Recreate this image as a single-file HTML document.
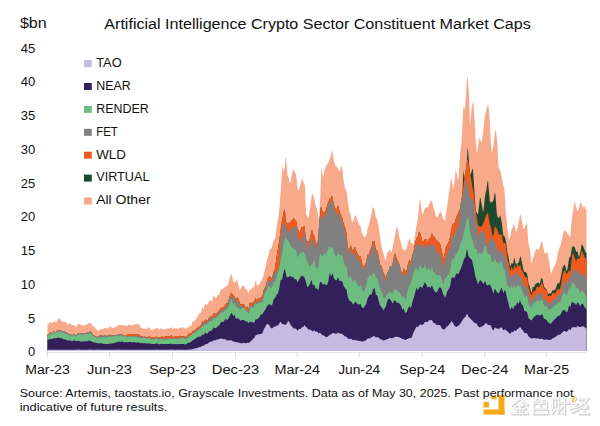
<!DOCTYPE html><html><head><meta charset="utf-8"><style>
html,body{margin:0;padding:0;background:#fff;}
body{width:600px;height:426px;overflow:hidden;position:relative;font-family:"Liberation Sans",sans-serif;color:#1a1a1a;}
.t{position:absolute;white-space:nowrap;line-height:1;}
</style></head><body>
<svg width="600" height="426" style="position:absolute;left:0;top:0">

<polygon fill="#f8a98a" points="47.5,351.0 47.5,324.3 48.0,324.1 48.5,323.7 49.0,323.2 49.5,322.6 50.0,322.2 50.5,322.0 51.0,321.8 51.5,322.3 52.0,323.0 52.5,323.6 53.0,322.8 53.5,321.7 54.0,320.8 54.5,321.3 55.0,321.7 55.5,322.0 56.0,321.9 56.5,321.7 57.0,321.2 57.5,320.3 58.0,319.4 58.5,318.7 59.0,318.0 59.5,318.4 60.0,319.0 60.5,319.5 61.0,320.1 61.5,320.7 62.0,321.2 62.5,321.7 63.0,321.9 63.5,322.1 64.0,322.1 64.5,322.0 65.0,321.8 65.5,322.0 66.0,322.3 66.5,322.6 67.0,323.4 67.5,324.1 68.0,324.6 68.5,324.2 69.0,323.8 69.5,323.5 70.0,323.5 70.5,323.5 71.0,323.8 71.5,324.4 72.0,325.1 72.5,325.2 73.0,325.2 73.5,325.1 74.0,325.2 74.5,325.2 75.0,325.5 75.5,326.6 76.0,327.2 76.5,327.1 77.0,326.1 77.5,325.1 78.0,324.5 78.5,324.1 79.0,323.8 79.5,323.9 80.0,324.2 80.5,324.7 81.0,324.8 81.5,324.9 82.0,325.0 82.5,325.2 83.0,325.4 83.5,325.5 84.0,325.5 84.5,325.5 85.0,325.3 85.5,325.0 86.0,324.7 86.5,324.5 87.0,324.3 87.5,324.1 88.0,323.7 88.5,323.4 89.0,323.1 89.5,322.9 90.0,322.8 90.5,322.9 91.0,323.6 91.5,324.2 92.0,324.9 92.5,325.7 93.0,326.5 93.5,326.6 94.0,326.5 94.5,326.6 95.0,327.5 95.5,328.3 96.0,329.1 96.5,329.5 97.0,330.0 97.5,330.0 98.0,330.5 98.5,330.9 99.0,330.8 99.5,330.2 100.0,329.6 100.5,329.3 101.0,329.0 101.5,328.8 102.0,329.1 102.5,329.3 103.0,329.4 103.5,328.8 104.0,328.2 104.5,327.9 105.0,328.1 105.5,328.4 106.0,328.4 106.5,328.2 107.0,327.9 107.5,328.0 108.0,328.2 108.5,328.4 109.0,327.6 109.5,326.8 110.0,326.2 110.5,326.7 111.0,327.1 111.5,327.5 112.0,327.7 112.5,327.7 113.0,327.7 113.5,327.8 114.0,327.9 114.5,327.5 115.0,327.1 115.5,326.6 116.0,326.7 116.5,326.9 117.0,326.8 117.5,326.1 118.0,325.3 118.5,324.8 119.0,324.9 119.5,325.0 120.0,325.1 120.5,325.2 121.0,325.3 121.5,325.1 122.0,324.8 122.5,324.5 123.0,325.0 123.5,325.5 124.0,325.8 124.5,325.5 125.0,325.2 125.5,325.2 126.0,325.7 126.5,326.2 127.0,326.0 127.5,325.5 128.0,324.9 128.5,324.8 129.0,324.8 129.5,324.8 130.0,324.9 130.5,325.0 131.0,325.1 131.5,325.3 132.0,325.5 132.5,325.4 133.0,325.0 133.5,324.5 134.0,324.3 134.5,324.4 135.0,324.4 135.5,324.2 136.0,324.0 136.5,323.7 137.0,324.1 137.5,324.5 138.0,324.8 138.5,324.4 139.0,324.0 139.5,324.6 140.0,326.0 140.5,327.4 141.0,327.8 141.5,327.8 142.0,327.7 142.5,328.0 143.0,328.5 143.5,328.9 144.0,328.6 144.5,328.4 145.0,328.2 145.5,328.7 146.0,329.2 146.5,329.3 147.0,328.9 147.5,328.5 148.0,328.1 148.5,327.7 149.0,327.3 149.5,327.8 150.0,328.7 150.5,329.5 151.0,329.7 151.5,330.0 152.0,330.1 152.5,329.8 153.0,329.5 153.5,329.2 154.0,329.1 154.5,329.0 155.0,328.7 155.5,328.3 156.0,327.9 156.5,327.9 157.0,328.0 157.5,328.0 158.0,328.7 158.5,329.3 159.0,329.7 159.5,329.4 160.0,329.1 160.5,328.8 161.0,328.5 161.5,328.2 162.0,328.4 162.5,329.0 163.0,329.5 163.5,329.5 164.0,329.4 164.5,329.3 165.0,329.2 165.5,329.0 166.0,328.9 166.5,328.7 167.0,328.6 167.5,328.5 168.0,328.5 168.5,328.5 169.0,328.4 169.5,328.3 170.0,328.2 170.5,327.8 171.0,327.4 171.5,326.9 172.0,327.9 172.5,328.8 173.0,329.4 173.5,328.8 174.0,328.3 174.5,328.0 175.0,328.2 175.5,328.4 176.0,328.4 176.5,328.3 177.0,328.2 177.5,328.4 178.0,328.7 178.5,328.9 179.0,328.3 179.5,327.7 180.0,327.3 180.5,327.7 181.0,328.1 181.5,328.2 182.0,327.8 182.5,327.3 183.0,327.3 183.5,327.5 184.0,327.8 184.5,328.4 185.0,328.9 185.5,329.2 186.0,328.8 186.5,328.3 187.0,327.8 187.5,327.5 188.0,327.2 188.5,327.0 189.0,326.9 189.5,326.6 190.0,326.3 190.5,326.1 191.0,326.0 191.5,324.8 192.0,323.3 192.5,321.8 193.0,321.5 193.5,321.2 194.0,320.9 194.5,320.7 195.0,320.5 195.5,320.0 196.0,319.0 196.5,318.1 197.0,317.5 197.5,317.2 198.0,315.8 198.5,314.7 199.0,313.8 199.5,313.8 200.0,313.4 200.5,313.0 201.0,312.3 201.5,310.3 202.0,308.3 202.5,307.4 203.0,308.2 203.5,308.9 204.0,307.9 204.5,305.7 205.0,303.4 205.5,303.6 206.0,304.3 206.5,305.0 207.0,304.7 207.5,304.6 208.0,304.2 208.5,302.7 209.0,301.1 209.5,300.3 210.0,300.4 210.5,300.5 211.0,300.7 211.5,301.0 212.0,301.2 212.5,299.4 213.0,297.2 213.5,295.0 214.0,295.9 214.5,296.8 215.0,297.5 215.5,297.6 216.0,297.8 216.5,297.4 217.0,296.2 217.5,295.0 218.0,294.7 218.5,294.9 219.0,295.1 219.5,293.7 220.0,292.0 220.5,290.2 221.0,289.8 221.5,289.3 222.0,288.9 222.5,288.8 223.0,288.8 223.5,288.7 224.0,288.1 224.5,287.5 225.0,287.5 225.5,286.9 226.0,286.3 226.5,286.0 227.0,285.8 227.5,285.6 228.0,284.2 228.5,282.8 229.0,281.4 229.5,279.5 230.0,277.6 230.5,276.0 231.0,274.8 231.5,273.6 232.0,275.3 232.5,278.0 233.0,280.6 233.5,281.4 234.0,281.6 234.5,281.8 235.0,283.2 235.5,282.4 236.0,281.5 236.5,279.5 237.0,280.4 237.5,281.7 238.0,283.6 238.5,285.5 239.0,287.4 239.5,289.4 240.0,290.4 240.5,289.3 241.0,288.1 241.5,286.9 242.0,285.9 242.5,285.4 243.0,285.8 243.5,286.0 244.0,286.1 244.5,286.7 245.0,287.8 245.5,288.9 246.0,289.4 246.5,289.5 247.0,289.5 247.5,290.8 248.0,292.3 248.5,293.9 249.0,292.3 249.5,290.3 250.0,288.7 250.5,289.3 251.0,289.8 251.5,289.3 252.0,288.5 252.5,287.6 253.0,287.4 253.5,287.5 254.0,287.6 254.5,285.4 255.0,282.6 255.5,280.2 256.0,282.0 256.5,283.8 257.0,285.3 257.5,285.7 258.0,285.7 258.5,284.8 259.0,284.3 259.5,283.9 260.0,283.1 260.5,282.2 261.0,281.2 261.5,280.4 262.0,279.5 262.5,278.6 263.0,277.0 263.5,275.4 264.0,273.3 264.5,271.3 265.0,269.3 265.5,267.0 266.0,264.3 266.5,261.9 267.0,260.1 267.5,258.6 268.0,257.1 268.5,255.4 269.0,252.8 269.5,250.0 270.0,248.8 270.5,249.3 271.0,249.4 271.5,247.8 272.0,246.2 272.5,244.5 273.0,242.5 273.5,240.5 274.0,239.6 274.5,239.5 275.0,239.3 275.5,235.9 276.0,232.3 276.5,228.6 277.0,225.1 277.5,221.6 278.0,218.8 278.5,215.9 279.0,212.9 279.5,206.7 280.0,200.1 280.5,193.4 281.0,187.3 281.5,180.8 282.0,174.3 282.5,166.1 283.0,167.6 283.5,169.2 284.0,172.3 284.5,170.2 285.0,164.5 285.5,158.0 286.0,156.8 286.5,163.2 287.0,169.1 287.5,175.0 288.0,176.2 288.5,177.6 289.0,179.0 289.5,181.4 290.0,183.9 290.5,182.0 291.0,179.4 291.5,176.7 292.0,174.2 292.5,172.0 293.0,169.7 293.5,169.0 294.0,170.4 294.5,171.8 295.0,172.7 295.5,173.2 296.0,174.2 296.5,178.2 297.0,182.7 297.5,187.3 298.0,189.9 298.5,190.7 299.0,188.9 299.5,187.4 300.0,185.8 300.5,184.2 301.0,182.2 301.5,180.3 302.0,178.9 302.5,177.9 303.0,180.8 303.5,182.2 304.0,183.2 304.5,184.3 305.0,187.0 305.5,200.3 306.0,213.7 306.5,214.8 307.0,215.9 307.5,216.9 308.0,217.8 308.5,217.8 309.0,214.5 309.5,211.3 310.0,208.0 310.5,204.6 311.0,201.0 311.5,197.4 312.0,194.2 312.5,193.2 313.0,195.4 313.5,196.5 314.0,197.5 314.5,199.2 315.0,202.1 315.5,204.9 316.0,206.8 316.5,208.0 317.0,209.3 317.5,212.1 318.0,215.4 318.5,218.8 319.0,220.1 319.5,210.6 320.0,201.4 320.5,193.4 321.0,175.8 321.5,166.7 322.0,170.2 322.5,173.7 323.0,176.2 323.5,176.0 324.0,172.7 324.5,170.4 325.0,168.4 325.5,167.7 326.0,166.6 326.5,165.6 327.0,164.6 327.5,163.7 328.0,163.3 328.5,162.4 329.0,160.8 329.5,159.3 330.0,158.6 330.5,156.9 331.0,155.2 331.5,152.8 332.0,150.2 332.5,151.9 333.0,155.0 333.5,158.1 334.0,161.2 334.5,163.3 335.0,164.9 335.5,165.9 336.0,166.2 336.5,166.5 337.0,167.0 337.5,167.7 338.0,168.3 338.5,169.9 339.0,171.3 339.5,171.3 340.0,170.2 340.5,169.0 341.0,167.7 341.5,165.5 342.0,166.6 342.5,170.6 343.0,175.7 343.5,179.9 344.0,182.5 344.5,185.1 345.0,187.7 345.5,189.0 346.0,190.0 346.5,191.0 347.0,194.7 347.5,198.8 348.0,202.8 348.5,206.0 349.0,209.1 349.5,211.7 350.0,213.4 350.5,214.0 351.0,216.4 351.5,220.0 352.0,222.1 352.5,221.9 353.0,221.3 353.5,220.7 354.0,218.5 354.5,216.3 355.0,214.7 355.5,215.2 356.0,216.3 356.5,218.1 357.0,219.3 357.5,220.5 358.0,221.7 358.5,222.9 359.0,224.2 359.5,224.7 360.0,225.0 360.5,225.7 361.0,228.4 361.5,231.0 362.0,233.3 362.5,234.2 363.0,235.1 363.5,235.9 364.0,236.5 364.5,237.2 365.0,237.1 365.5,236.5 366.0,235.8 366.5,234.7 367.0,232.3 367.5,229.0 368.0,227.5 368.5,226.0 369.0,224.4 369.5,222.4 370.0,220.4 370.5,218.3 371.0,216.3 371.5,214.4 372.0,211.3 372.5,207.4 373.0,207.3 373.5,207.9 374.0,208.8 374.5,209.6 375.0,212.4 375.5,215.4 376.0,218.0 376.5,218.6 377.0,219.2 377.5,220.5 378.0,222.8 378.5,225.9 379.0,229.8 379.5,233.4 380.0,236.9 380.5,240.0 381.0,243.0 381.5,246.0 382.0,248.4 382.5,250.2 383.0,252.1 383.5,253.9 384.0,255.7 384.5,257.8 385.0,260.5 385.5,259.9 386.0,258.2 386.5,255.7 387.0,253.2 387.5,252.3 388.0,251.8 388.5,251.7 389.0,250.7 389.5,249.8 390.0,249.3 390.5,250.5 391.0,251.7 391.5,252.2 392.0,250.6 392.5,248.1 393.0,245.5 393.5,242.8 394.0,240.1 394.5,237.7 395.0,235.4 395.5,232.4 396.0,229.6 396.5,226.7 397.0,226.8 397.5,228.5 398.0,230.1 398.5,232.2 399.0,235.0 399.5,237.8 400.0,240.0 400.5,241.3 401.0,242.7 401.5,244.6 402.0,246.7 402.5,248.8 403.0,250.0 403.5,250.2 404.0,249.2 404.5,249.8 405.0,250.4 405.5,250.3 406.0,249.1 406.5,247.9 407.0,246.3 407.5,244.4 408.0,242.5 408.5,241.0 409.0,239.7 409.5,238.4 410.0,238.4 410.5,240.9 411.0,243.0 411.5,243.1 412.0,243.3 412.5,243.8 413.0,245.0 413.5,244.4 414.0,241.3 414.5,238.3 415.0,235.2 415.5,232.0 416.0,228.8 416.5,225.6 417.0,223.7 417.5,221.3 418.0,218.3 418.5,213.1 419.0,207.9 419.5,203.0 420.0,198.7 420.5,201.5 421.0,205.1 421.5,209.2 422.0,213.3 422.5,215.7 423.0,213.9 423.5,212.0 424.0,210.6 424.5,209.2 425.0,207.9 425.5,207.7 426.0,207.4 426.5,207.3 427.0,207.5 427.5,207.8 428.0,207.0 428.5,205.5 429.0,204.0 429.5,203.3 430.0,202.7 430.5,202.2 431.0,201.3 431.5,200.8 432.0,200.7 432.5,202.9 433.0,205.2 433.5,207.2 434.0,209.0 434.5,210.7 435.0,212.5 435.5,214.3 436.0,216.0 436.5,217.2 437.0,217.2 437.5,216.4 438.0,215.6 438.5,214.9 439.0,214.0 439.5,212.9 440.0,211.8 440.5,211.5 441.0,212.4 441.5,213.6 442.0,215.4 442.5,216.9 443.0,218.4 443.5,219.1 444.0,219.5 444.5,219.9 445.0,221.3 445.5,217.4 446.0,213.7 446.5,210.5 447.0,207.3 447.5,203.8 448.0,200.0 448.5,196.1 449.0,192.7 449.5,189.4 450.0,186.1 450.5,181.1 451.0,178.4 451.5,179.3 452.0,182.2 452.5,185.0 453.0,188.1 453.5,189.3 454.0,186.0 454.5,181.9 455.0,176.5 455.5,171.1 456.0,169.3 456.5,172.4 457.0,175.4 457.5,177.9 458.0,180.4 458.5,178.8 459.0,170.8 459.5,162.9 460.0,154.9 460.5,151.0 461.0,147.1 461.5,143.1 462.0,134.9 462.5,123.9 463.0,112.7 463.5,106.1 464.0,106.8 464.5,108.4 465.0,110.1 465.5,102.3 466.0,93.5 466.5,84.6 467.0,79.0 467.5,76.3 468.0,80.4 468.5,88.6 469.0,96.3 469.5,109.3 470.0,126.0 470.5,120.7 471.0,115.5 471.5,109.5 472.0,105.8 472.5,103.5 473.0,102.0 473.5,104.2 474.0,111.6 474.5,119.1 475.0,126.5 475.5,136.4 476.0,144.9 476.5,151.8 477.0,152.7 477.5,149.5 478.0,146.3 478.5,142.3 479.0,138.7 479.5,137.7 480.0,138.9 480.5,140.1 481.0,141.3 481.5,142.5 482.0,140.4 482.5,136.5 483.0,132.9 483.5,129.3 484.0,125.0 484.5,120.1 485.0,115.3 485.5,113.2 486.0,111.3 486.5,109.4 487.0,107.6 487.5,105.7 488.0,103.7 488.5,107.2 489.0,110.7 489.5,117.5 490.0,126.6 490.5,135.7 491.0,144.2 491.5,150.9 492.0,152.5 492.5,150.0 493.0,147.5 493.5,145.1 494.0,140.6 494.5,136.1 495.0,132.1 495.5,130.1 496.0,131.0 496.5,135.8 497.0,140.4 497.5,145.0 498.0,157.6 498.5,166.0 499.0,168.4 499.5,169.5 500.0,170.3 500.5,171.1 501.0,173.7 501.5,176.3 502.0,178.5 502.5,181.5 503.0,184.6 503.5,186.5 504.0,186.5 504.5,191.0 505.0,199.0 505.5,207.6 506.0,214.3 506.5,218.6 507.0,223.1 507.5,227.6 508.0,231.8 508.5,236.0 509.0,240.3 509.5,238.7 510.0,237.1 510.5,235.0 511.0,232.2 511.5,229.4 512.0,228.1 512.5,227.8 513.0,227.5 513.5,225.0 514.0,225.1 514.5,225.1 515.0,227.2 515.5,229.4 516.0,231.2 516.5,231.8 517.0,230.7 517.5,227.9 518.0,225.9 518.5,223.9 519.0,221.2 519.5,218.0 520.0,214.8 520.5,214.8 521.0,216.8 521.5,218.8 522.0,221.3 522.5,223.9 523.0,226.4 523.5,229.1 524.0,229.1 524.5,228.4 525.0,227.0 525.5,225.5 526.0,224.2 526.5,223.0 527.0,223.1 527.5,230.4 528.0,238.0 528.5,244.1 529.0,245.9 529.5,247.6 530.0,249.3 530.5,254.7 531.0,260.1 531.5,263.9 532.0,261.8 532.5,259.8 533.0,258.1 533.5,256.6 534.0,255.1 534.5,253.6 535.0,252.2 535.5,250.8 536.0,249.3 536.5,248.5 537.0,248.9 537.5,249.5 538.0,250.2 538.5,249.3 539.0,248.6 539.5,247.9 540.0,246.5 540.5,244.5 541.0,242.5 541.5,241.5 542.0,240.7 542.5,243.1 543.0,245.8 543.5,248.6 544.0,251.1 544.5,252.7 545.0,254.3 545.5,253.6 546.0,252.7 546.5,251.8 547.0,252.0 547.5,253.1 548.0,255.5 548.5,258.5 549.0,261.0 549.5,263.6 550.0,267.3 550.5,271.0 551.0,274.5 551.5,273.5 552.0,271.5 552.5,269.9 553.0,268.7 553.5,267.6 554.0,266.6 554.5,265.7 555.0,264.9 555.5,263.6 556.0,262.3 556.5,260.3 557.0,257.6 557.5,254.9 558.0,252.4 558.5,250.8 559.0,249.3 559.5,247.8 560.0,246.5 560.5,245.3 561.0,243.4 561.5,241.2 562.0,239.0 562.5,236.8 563.0,234.6 563.5,232.4 564.0,231.0 564.5,230.3 565.0,230.0 565.5,230.8 566.0,231.7 566.5,232.1 567.0,232.3 567.5,234.1 568.0,234.7 568.5,234.6 569.0,234.4 569.5,236.6 570.0,237.1 570.5,234.1 571.0,228.4 571.5,222.6 572.0,217.6 572.5,214.6 573.0,211.6 573.5,208.6 574.0,205.5 574.5,202.3 575.0,201.7 575.5,204.5 576.0,207.4 576.5,208.6 577.0,209.5 577.5,210.4 578.0,211.3 578.5,209.6 579.0,208.0 579.5,206.3 580.0,204.6 580.5,202.6 581.0,201.6 581.5,203.1 582.0,204.9 582.5,206.9 583.0,207.8 583.5,207.1 584.0,206.5 584.5,205.9 585.0,206.7 585.5,208.4 586.0,209.8 586.5,209.9 586.5,351.0"/>
<polygon fill="#1d4a2c" points="47.5,351.0 47.5,334.6 48.0,334.5 48.5,334.2 49.0,333.7 49.5,333.2 50.0,332.9 50.5,332.8 51.0,332.6 51.5,332.8 52.0,333.1 52.5,333.4 53.0,332.5 53.5,331.6 54.0,330.9 54.5,331.5 55.0,332.0 55.5,332.3 56.0,332.0 56.5,331.7 57.0,331.3 57.5,330.8 58.0,330.3 58.5,330.1 59.0,330.2 59.5,330.2 60.0,330.3 60.5,330.3 61.0,330.4 61.5,330.7 62.0,330.9 62.5,331.2 63.0,331.4 63.5,331.7 64.0,331.8 64.5,331.8 65.0,331.8 65.5,331.9 66.0,332.1 66.5,332.3 67.0,332.9 67.5,333.4 68.0,333.8 68.5,333.8 69.0,333.9 69.5,333.9 70.0,334.1 70.5,334.3 71.0,334.6 71.5,335.0 72.0,335.3 72.5,335.1 73.0,334.8 73.5,334.4 74.0,334.5 74.5,334.5 75.0,334.7 75.5,335.1 76.0,335.3 76.5,335.1 77.0,334.5 77.5,333.8 78.0,333.4 78.5,333.3 79.0,333.1 79.5,333.1 80.0,333.1 80.5,333.2 81.0,333.1 81.5,333.3 82.0,333.5 82.5,333.6 83.0,333.7 83.5,333.7 84.0,333.4 84.5,333.1 85.0,333.0 85.5,332.9 86.0,332.9 86.5,332.8 87.0,332.8 87.5,332.7 88.0,332.6 88.5,332.5 89.0,332.4 89.5,332.0 90.0,331.6 90.5,331.6 91.0,332.1 91.5,332.7 92.0,333.5 92.5,334.3 93.0,335.2 93.5,335.4 94.0,335.4 94.5,335.5 95.0,335.9 95.5,336.3 96.0,336.7 96.5,336.8 97.0,337.0 97.5,336.7 98.0,336.7 98.5,336.8 99.0,336.4 99.5,335.8 100.0,335.2 100.5,335.2 101.0,335.2 101.5,335.3 102.0,335.6 102.5,335.9 103.0,336.1 103.5,335.8 104.0,335.5 104.5,335.4 105.0,335.6 105.5,335.8 106.0,335.9 106.5,335.8 107.0,335.7 107.5,335.7 108.0,335.8 108.5,335.8 109.0,335.3 109.5,334.9 110.0,334.6 110.5,334.9 111.0,335.2 111.5,335.4 112.0,335.4 112.5,335.4 113.0,335.4 113.5,335.6 114.0,335.8 114.5,335.6 115.0,335.2 115.5,334.9 116.0,335.0 116.5,335.1 117.0,335.1 117.5,334.8 118.0,334.4 118.5,334.3 119.0,334.6 119.5,334.8 120.0,334.8 120.5,334.8 121.0,334.8 121.5,334.7 122.0,334.5 122.5,334.4 123.0,335.0 123.5,335.6 124.0,336.0 124.5,335.7 125.0,335.4 125.5,335.4 126.0,334.7 126.5,335.0 127.0,334.9 127.5,334.5 128.0,334.1 128.5,334.0 129.0,334.0 129.5,334.0 130.0,334.2 130.5,334.4 131.0,334.6 131.5,334.6 132.0,334.6 132.5,334.6 133.0,334.3 133.5,334.0 134.0,334.0 134.5,334.0 135.0,334.1 135.5,334.2 136.0,334.3 136.5,334.4 137.0,334.5 137.5,334.5 138.0,334.5 138.5,334.5 139.0,334.5 139.5,334.7 140.0,335.2 140.5,336.1 141.0,336.3 141.5,336.2 142.0,336.2 142.5,336.4 143.0,336.7 143.5,337.1 144.0,336.8 144.5,336.6 145.0,336.5 145.5,336.9 146.0,337.2 146.5,337.4 147.0,337.2 147.5,337.0 148.0,336.8 148.5,336.6 149.0,336.4 149.5,336.7 150.0,337.1 150.5,337.4 151.0,337.5 151.5,337.5 152.0,337.5 152.5,337.5 153.0,337.5 153.5,337.5 154.0,337.4 154.5,337.3 155.0,337.2 155.5,336.9 156.0,336.7 156.5,336.7 157.0,336.9 157.5,337.0 158.0,337.3 158.5,337.6 159.0,337.8 159.5,337.6 160.0,337.4 160.5,337.1 161.0,336.9 161.5,336.6 162.0,336.6 162.5,336.7 163.0,336.9 163.5,336.9 164.0,336.8 164.5,336.7 165.0,336.6 165.5,336.5 166.0,336.4 166.5,336.2 167.0,336.1 167.5,336.1 168.0,336.1 168.5,336.2 169.0,336.2 169.5,336.2 170.0,336.1 170.5,335.9 171.0,335.6 171.5,335.3 172.0,336.0 172.5,336.6 173.0,337.1 173.5,336.9 174.0,336.7 174.5,336.6 175.0,336.5 175.5,336.4 176.0,336.3 176.5,336.1 177.0,336.0 177.5,336.2 178.0,336.5 178.5,336.7 179.0,336.3 179.5,335.9 180.0,335.7 180.5,336.0 181.0,336.2 181.5,336.4 182.0,336.3 182.5,336.3 183.0,336.2 183.5,336.2 184.0,336.1 184.5,336.6 185.0,337.1 185.5,337.4 186.0,336.9 186.5,336.3 187.0,335.8 187.5,335.1 188.0,334.4 188.5,333.9 189.0,333.6 189.5,333.3 190.0,333.3 190.5,333.3 191.0,333.4 191.5,332.9 192.0,332.1 192.5,331.4 193.0,331.1 193.5,330.8 194.0,330.6 194.5,330.5 195.0,330.4 195.5,330.1 196.0,329.2 196.5,328.4 197.0,327.9 197.5,327.8 198.0,327.5 198.5,327.0 199.0,326.6 199.5,326.2 200.0,325.9 200.5,325.7 201.0,325.3 201.5,323.7 202.0,322.0 202.5,321.1 203.0,321.5 203.5,322.1 204.0,321.7 204.5,320.6 205.0,319.4 205.5,319.5 206.0,320.0 206.5,320.5 207.0,320.3 207.5,320.2 208.0,319.9 208.5,318.7 209.0,317.5 209.5,316.8 210.0,316.8 210.5,316.8 211.0,316.8 211.5,316.8 212.0,316.8 212.5,315.8 213.0,314.5 213.5,313.3 214.0,313.4 214.5,313.6 215.0,313.8 215.5,313.8 216.0,313.7 216.5,313.4 217.0,312.7 217.5,312.0 218.0,311.6 218.5,311.4 219.0,311.1 219.5,310.2 220.0,309.1 220.5,307.9 221.0,307.9 221.5,307.8 222.0,307.8 222.5,307.8 223.0,307.8 223.5,307.5 224.0,306.6 224.5,305.7 225.0,305.4 225.5,304.6 226.0,303.8 226.5,303.5 227.0,303.5 227.5,303.5 228.0,301.9 228.5,300.4 229.0,298.8 229.5,297.3 230.0,295.7 230.5,294.4 231.0,293.5 231.5,292.5 232.0,293.2 232.5,294.4 233.0,295.5 233.5,295.7 234.0,295.7 234.5,295.7 235.0,297.3 235.5,299.0 236.0,300.0 236.5,298.9 237.0,297.7 237.5,297.3 238.0,298.0 238.5,298.9 239.0,300.3 239.5,301.9 240.0,303.4 240.5,303.9 241.0,304.2 241.5,304.4 242.0,304.2 242.5,304.0 243.0,303.9 243.5,304.2 244.0,304.5 244.5,305.3 245.0,306.6 245.5,308.0 246.0,307.9 246.5,306.9 247.0,306.0 247.5,307.0 248.0,308.5 248.5,309.0 249.0,306.6 249.5,304.1 250.0,302.2 250.5,302.8 251.0,303.4 251.5,303.6 252.0,303.1 252.5,302.6 253.0,302.3 253.5,302.0 254.0,301.7 254.5,300.4 255.0,299.2 255.5,298.0 256.0,298.9 256.5,299.8 257.0,300.3 257.5,299.3 258.0,298.4 258.5,297.8 259.0,298.0 259.5,298.2 260.0,298.0 260.5,297.7 261.0,297.4 261.5,297.0 262.0,296.4 262.5,295.8 263.0,293.4 263.5,290.9 264.0,288.9 264.5,288.3 265.0,287.7 265.5,286.7 266.0,284.8 266.5,282.9 267.0,281.2 267.5,279.7 268.0,278.2 268.5,277.4 269.0,276.6 269.5,275.8 270.0,276.7 270.5,277.6 271.0,278.3 271.5,278.0 272.0,277.7 272.5,276.5 273.0,273.9 273.5,271.4 274.0,270.7 274.5,270.1 275.0,268.1 275.5,264.7 276.0,261.0 276.5,257.3 277.0,254.3 277.5,251.3 278.0,248.3 278.5,245.1 279.0,242.0 279.5,238.6 280.0,234.7 280.5,230.4 281.0,226.7 281.5,223.7 282.0,220.7 282.5,218.2 283.0,215.3 283.5,212.3 284.0,210.7 284.5,209.1 285.0,211.5 285.5,216.3 286.0,221.1 286.5,224.5 287.0,223.8 287.5,223.0 288.0,222.8 288.5,223.0 289.0,223.2 289.5,222.8 290.0,222.3 290.5,221.7 291.0,221.2 291.5,220.7 292.0,220.2 292.5,219.5 293.0,218.8 293.5,217.6 294.0,218.7 294.5,219.7 295.0,220.1 295.5,220.1 296.0,220.0 296.5,222.5 297.0,225.6 297.5,228.7 298.0,229.6 298.5,230.6 299.0,231.8 299.5,233.8 300.0,233.0 300.5,231.1 301.0,228.7 301.5,226.7 302.0,227.1 302.5,227.8 303.0,228.6 303.5,227.3 304.0,225.6 304.5,227.5 305.0,231.0 305.5,234.5 306.0,238.0 306.5,241.5 307.0,242.2 307.5,241.4 308.0,241.4 308.5,241.3 309.0,240.6 309.5,239.4 310.0,238.3 310.5,236.1 311.0,233.2 311.5,230.4 312.0,229.4 312.5,231.9 313.0,234.0 313.5,234.8 314.0,235.6 314.5,237.1 315.0,239.3 315.5,241.5 316.0,242.7 316.5,243.2 317.0,243.7 317.5,244.5 318.0,239.4 318.5,234.3 319.0,227.0 319.5,219.8 320.0,215.2 320.5,209.0 321.0,206.5 321.5,207.8 322.0,209.8 322.5,211.8 323.0,212.6 323.5,212.6 324.0,212.6 324.5,212.3 325.0,211.5 325.5,210.7 326.0,209.2 326.5,207.6 327.0,206.0 327.5,204.4 328.0,202.9 328.5,201.6 329.0,200.2 329.5,198.9 330.0,198.1 330.5,197.8 331.0,197.5 331.5,196.2 332.0,196.3 332.5,196.8 333.0,199.7 333.5,202.6 334.0,205.2 334.5,206.6 335.0,207.7 335.5,208.3 336.0,208.7 336.5,209.1 337.0,208.4 337.5,206.8 338.0,205.2 338.5,206.4 339.0,208.9 339.5,211.3 340.0,212.4 340.5,213.5 341.0,214.7 341.5,216.1 342.0,217.4 342.5,219.1 343.0,221.2 343.5,223.3 344.0,224.7 344.5,225.7 345.0,226.6 345.5,229.0 346.0,231.3 346.5,233.6 347.0,238.4 347.5,243.3 348.0,247.8 348.5,249.8 349.0,249.8 349.5,249.0 350.0,247.0 350.5,244.9 351.0,245.4 351.5,247.5 352.0,249.7 352.5,249.9 353.0,249.6 353.5,249.4 354.0,248.4 354.5,247.4 355.0,246.7 355.5,248.4 356.0,250.2 356.5,251.7 357.0,252.7 357.5,253.7 358.0,254.7 358.5,255.6 359.0,256.6 359.5,256.5 360.0,256.2 360.5,255.9 361.0,258.3 361.5,260.7 362.0,262.9 362.5,264.4 363.0,266.0 363.5,266.6 364.0,266.0 364.5,265.4 365.0,264.5 365.5,263.4 366.0,262.3 366.5,259.9 367.0,257.2 367.5,254.4 368.0,254.7 368.5,254.7 369.0,254.2 369.5,252.4 370.0,250.6 370.5,249.1 371.0,248.2 371.5,247.2 372.0,244.8 372.5,241.6 373.0,241.0 373.5,241.1 374.0,241.2 374.5,241.4 375.0,244.6 375.5,247.8 376.0,250.3 376.5,250.3 377.0,250.4 377.5,251.1 378.0,253.1 378.5,255.4 379.0,258.3 379.5,261.3 380.0,264.3 380.5,265.2 381.0,265.7 381.5,266.1 382.0,267.8 382.5,269.5 383.0,271.3 383.5,273.0 384.0,273.7 384.5,274.5 385.0,275.8 385.5,277.0 386.0,276.9 386.5,275.8 387.0,273.4 387.5,272.4 388.0,271.8 388.5,271.1 389.0,269.4 389.5,267.7 390.0,266.4 390.5,266.3 391.0,266.3 391.5,266.2 392.0,265.4 392.5,263.9 393.0,261.7 393.5,258.9 394.0,256.2 394.5,254.5 395.0,253.0 395.5,254.8 396.0,256.5 396.5,258.1 397.0,259.5 397.5,260.3 398.0,261.0 398.5,262.0 399.0,263.4 399.5,264.9 400.0,266.6 400.5,268.4 401.0,270.3 401.5,272.2 402.0,273.4 402.5,273.6 403.0,271.6 403.5,269.6 404.0,268.3 404.5,269.7 405.0,271.1 405.5,271.7 406.0,270.9 406.5,270.1 407.0,268.4 407.5,266.2 408.0,263.9 408.5,262.3 409.0,260.9 409.5,259.4 410.0,260.4 410.5,261.3 411.0,261.6 411.5,259.1 412.0,256.6 412.5,254.6 413.0,253.3 413.5,251.7 414.0,249.1 414.5,246.3 415.0,243.6 415.5,241.6 416.0,239.8 416.5,238.1 417.0,237.5 417.5,237.0 418.0,235.7 418.5,233.0 419.0,232.0 419.5,231.8 420.0,232.9 420.5,233.9 421.0,235.7 421.5,238.0 422.0,240.3 422.5,240.9 423.0,241.0 423.5,241.2 424.0,240.5 424.5,239.8 425.0,239.4 425.5,239.2 426.0,239.0 426.5,239.4 427.0,240.6 427.5,241.9 428.0,241.4 428.5,239.9 429.0,238.3 429.5,237.9 430.0,237.9 430.5,238.0 431.0,236.1 431.5,234.2 432.0,232.9 432.5,234.4 433.0,235.8 433.5,236.7 434.0,236.7 434.5,236.9 435.0,238.0 435.5,238.9 436.0,239.9 436.5,240.5 437.0,241.0 437.5,241.6 438.0,241.8 438.5,242.0 439.0,242.2 439.5,243.0 440.0,243.8 440.5,245.2 441.0,247.5 441.5,249.9 442.0,252.1 442.5,254.3 443.0,256.5 443.5,257.6 444.0,257.0 444.5,254.3 445.0,251.7 445.5,249.0 446.0,246.8 446.5,246.0 447.0,245.2 447.5,244.3 448.0,243.2 448.5,242.1 449.0,240.6 449.5,238.9 450.0,237.3 450.5,234.3 451.0,231.1 451.5,228.0 452.0,226.3 452.5,224.7 453.0,223.4 453.5,223.7 454.0,223.9 454.5,223.4 455.0,221.6 455.5,219.8 456.0,218.2 456.5,216.9 457.0,215.6 457.5,214.5 458.0,213.4 458.5,212.3 459.0,211.1 459.5,209.8 460.0,208.5 460.5,205.1 461.0,202.2 461.5,199.3 462.0,196.0 462.5,191.4 463.0,178.8 463.5,169.9 464.0,174.8 464.5,177.9 465.0,174.9 465.5,171.9 466.0,168.3 466.5,164.7 467.0,158.6 467.5,150.1 468.0,148.1 468.5,155.5 469.0,162.4 469.5,169.2 470.0,173.2 470.5,174.7 471.0,173.5 471.5,171.8 472.0,170.0 472.5,168.3 473.0,170.3 473.5,177.5 474.0,184.8 474.5,192.3 475.0,199.8 475.5,206.9 476.0,213.0 476.5,212.3 477.0,212.8 477.5,214.3 478.0,214.3 478.5,210.4 479.0,206.1 479.5,201.8 480.0,198.2 480.5,197.5 481.0,200.7 481.5,203.3 482.0,205.7 482.5,208.7 483.0,212.6 483.5,209.9 484.0,206.0 484.5,201.3 485.0,196.6 485.5,193.7 486.0,191.3 486.5,188.8 487.0,185.0 487.5,181.2 488.0,181.2 488.5,186.5 489.0,191.8 489.5,197.3 490.0,203.3 490.5,201.7 491.0,201.4 491.5,202.0 492.0,202.5 492.5,201.8 493.0,201.0 493.5,200.2 494.0,197.2 494.5,194.2 495.0,191.9 495.5,195.1 496.0,202.5 496.5,209.8 497.0,214.7 497.5,216.4 498.0,217.3 498.5,217.7 499.0,218.1 499.5,217.1 500.0,215.8 500.5,215.8 501.0,218.4 501.5,221.1 502.0,224.1 502.5,228.6 503.0,233.2 503.5,236.0 504.0,236.1 504.5,236.3 505.0,237.6 505.5,239.7 506.0,241.9 506.5,245.1 507.0,248.7 507.5,252.7 508.0,255.1 508.5,257.4 509.0,260.0 509.5,263.3 510.0,266.6 510.5,265.9 511.0,264.6 511.5,263.3 512.0,263.0 512.5,263.5 513.0,263.9 513.5,261.8 514.0,259.1 514.5,257.7 515.0,260.4 515.5,263.0 516.0,265.0 516.5,264.2 517.0,263.4 517.5,263.2 518.0,263.2 518.5,263.1 519.0,261.6 519.5,259.3 520.0,256.9 520.5,256.2 521.0,257.8 521.5,260.5 522.0,262.9 522.5,265.3 523.0,267.9 523.5,269.9 524.0,271.3 524.5,272.0 525.0,272.0 525.5,272.0 526.0,272.5 526.5,273.0 527.0,273.4 527.5,276.3 528.0,279.7 528.5,283.6 529.0,284.9 529.5,286.2 530.0,287.6 530.5,289.9 531.0,292.1 531.5,293.0 532.0,290.4 532.5,287.9 533.0,286.9 533.5,286.9 534.0,287.0 534.5,285.9 535.0,284.8 535.5,284.0 536.0,283.7 536.5,283.4 537.0,283.1 537.5,282.8 538.0,282.5 538.5,282.8 539.0,283.5 539.5,283.8 540.0,282.7 540.5,280.9 541.0,279.0 541.5,278.2 542.0,277.7 542.5,279.2 543.0,281.7 543.5,284.3 544.0,286.5 544.5,287.2 545.0,287.9 545.5,288.5 546.0,288.9 546.5,289.2 547.0,290.4 547.5,292.1 548.0,293.8 548.5,293.9 549.0,293.6 549.5,293.3 550.0,293.4 550.5,293.5 551.0,293.3 551.5,292.2 552.0,291.1 552.5,290.4 553.0,290.3 553.5,290.3 554.0,290.2 554.5,290.1 555.0,290.0 555.5,289.0 556.0,287.7 556.5,285.9 557.0,284.7 557.5,283.6 558.0,282.7 558.5,283.0 559.0,283.4 559.5,282.8 560.0,280.8 560.5,278.8 561.0,276.1 561.5,273.1 562.0,270.1 562.5,267.8 563.0,266.7 563.5,265.9 564.0,265.5 564.5,265.1 565.0,265.1 565.5,267.0 566.0,269.0 566.5,271.0 567.0,270.9 567.5,268.8 568.0,265.7 568.5,262.1 569.0,258.4 569.5,257.4 570.0,257.1 570.5,256.8 571.0,253.7 571.5,250.5 572.0,247.7 572.5,246.4 573.0,246.0 573.5,246.6 574.0,246.7 574.5,246.9 575.0,247.9 575.5,249.6 576.0,251.7 576.5,251.9 577.0,251.4 577.5,250.9 578.0,253.5 578.5,256.0 579.0,257.0 579.5,255.4 580.0,253.7 580.5,251.6 581.0,248.6 581.5,245.6 582.0,244.3 582.5,245.1 583.0,245.8 583.5,247.0 584.0,248.4 584.5,249.7 585.0,251.2 585.5,252.3 586.0,253.0 586.5,252.2 586.5,351.0"/>
<polygon fill="#f05a1e" points="47.5,351.0 47.5,334.6 48.0,334.5 48.5,334.2 49.0,333.7 49.5,333.2 50.0,332.9 50.5,332.8 51.0,332.6 51.5,332.8 52.0,333.1 52.5,333.4 53.0,332.5 53.5,331.6 54.0,330.9 54.5,331.5 55.0,332.0 55.5,332.3 56.0,332.0 56.5,331.7 57.0,331.3 57.5,330.8 58.0,330.3 58.5,330.1 59.0,330.2 59.5,330.2 60.0,330.3 60.5,330.3 61.0,330.4 61.5,330.7 62.0,330.9 62.5,331.2 63.0,331.4 63.5,331.7 64.0,331.8 64.5,331.8 65.0,331.8 65.5,331.9 66.0,332.1 66.5,332.3 67.0,332.9 67.5,333.4 68.0,333.8 68.5,333.8 69.0,333.9 69.5,333.9 70.0,334.1 70.5,334.3 71.0,334.6 71.5,335.0 72.0,335.3 72.5,335.1 73.0,334.8 73.5,334.4 74.0,334.5 74.5,334.5 75.0,334.7 75.5,335.1 76.0,335.3 76.5,335.1 77.0,334.5 77.5,333.8 78.0,333.4 78.5,333.3 79.0,333.1 79.5,333.1 80.0,333.1 80.5,333.2 81.0,333.1 81.5,333.3 82.0,333.5 82.5,333.6 83.0,333.7 83.5,333.7 84.0,333.4 84.5,333.1 85.0,333.0 85.5,332.9 86.0,332.9 86.5,332.8 87.0,332.8 87.5,332.7 88.0,332.6 88.5,332.5 89.0,332.4 89.5,332.0 90.0,331.6 90.5,331.6 91.0,332.1 91.5,332.7 92.0,333.5 92.5,334.3 93.0,335.2 93.5,335.4 94.0,335.4 94.5,335.5 95.0,335.9 95.5,336.3 96.0,336.7 96.5,336.8 97.0,337.0 97.5,336.7 98.0,336.7 98.5,336.8 99.0,336.4 99.5,335.8 100.0,335.2 100.5,335.2 101.0,335.2 101.5,335.3 102.0,335.6 102.5,335.9 103.0,336.1 103.5,335.8 104.0,335.5 104.5,335.4 105.0,335.6 105.5,335.8 106.0,335.9 106.5,335.8 107.0,335.7 107.5,335.7 108.0,335.8 108.5,335.8 109.0,335.3 109.5,334.9 110.0,334.6 110.5,334.9 111.0,335.2 111.5,335.4 112.0,335.4 112.5,335.4 113.0,335.4 113.5,335.6 114.0,335.8 114.5,335.6 115.0,335.2 115.5,334.9 116.0,335.0 116.5,335.1 117.0,335.1 117.5,334.8 118.0,334.4 118.5,334.3 119.0,334.6 119.5,334.8 120.0,334.8 120.5,334.8 121.0,334.8 121.5,334.7 122.0,334.5 122.5,334.4 123.0,335.0 123.5,335.6 124.0,336.0 124.5,335.7 125.0,335.4 125.5,335.4 126.0,334.7 126.5,335.0 127.0,334.9 127.5,334.5 128.0,334.1 128.5,334.0 129.0,334.0 129.5,334.0 130.0,334.2 130.5,334.4 131.0,334.6 131.5,334.6 132.0,334.6 132.5,334.6 133.0,334.3 133.5,334.0 134.0,334.0 134.5,334.0 135.0,334.1 135.5,334.2 136.0,334.3 136.5,334.4 137.0,334.5 137.5,334.5 138.0,334.5 138.5,334.5 139.0,334.5 139.5,334.7 140.0,335.2 140.5,336.1 141.0,336.3 141.5,336.2 142.0,336.2 142.5,336.4 143.0,336.7 143.5,337.1 144.0,336.8 144.5,336.6 145.0,336.5 145.5,336.9 146.0,337.2 146.5,337.4 147.0,337.2 147.5,337.0 148.0,336.8 148.5,336.6 149.0,336.4 149.5,336.7 150.0,337.1 150.5,337.4 151.0,337.5 151.5,337.5 152.0,337.5 152.5,337.5 153.0,337.5 153.5,337.5 154.0,337.4 154.5,337.3 155.0,337.2 155.5,336.9 156.0,336.7 156.5,336.7 157.0,336.9 157.5,337.0 158.0,337.3 158.5,337.6 159.0,337.8 159.5,337.6 160.0,337.4 160.5,337.1 161.0,336.9 161.5,336.6 162.0,336.6 162.5,336.7 163.0,336.9 163.5,336.9 164.0,336.8 164.5,336.7 165.0,336.6 165.5,336.5 166.0,336.4 166.5,336.2 167.0,336.1 167.5,336.1 168.0,336.1 168.5,336.2 169.0,336.2 169.5,336.2 170.0,336.1 170.5,335.9 171.0,335.6 171.5,335.3 172.0,336.0 172.5,336.6 173.0,337.1 173.5,336.9 174.0,336.7 174.5,336.6 175.0,336.5 175.5,336.4 176.0,336.3 176.5,336.1 177.0,336.0 177.5,336.2 178.0,336.5 178.5,336.7 179.0,336.3 179.5,335.9 180.0,335.7 180.5,336.0 181.0,336.2 181.5,336.4 182.0,336.3 182.5,336.3 183.0,336.2 183.5,336.2 184.0,336.1 184.5,336.6 185.0,337.1 185.5,337.4 186.0,336.9 186.5,336.3 187.0,335.8 187.5,335.1 188.0,334.4 188.5,333.9 189.0,333.6 189.5,333.3 190.0,333.3 190.5,333.3 191.0,333.4 191.5,332.9 192.0,332.1 192.5,331.4 193.0,331.1 193.5,330.8 194.0,330.6 194.5,330.5 195.0,330.4 195.5,330.1 196.0,329.2 196.5,328.4 197.0,327.9 197.5,327.8 198.0,327.5 198.5,327.0 199.0,326.6 199.5,326.2 200.0,325.9 200.5,325.7 201.0,325.3 201.5,323.7 202.0,322.0 202.5,321.1 203.0,321.5 203.5,322.1 204.0,321.7 204.5,320.6 205.0,319.4 205.5,319.5 206.0,320.0 206.5,320.5 207.0,320.3 207.5,320.2 208.0,319.9 208.5,318.7 209.0,317.5 209.5,316.8 210.0,316.8 210.5,316.8 211.0,316.8 211.5,316.8 212.0,316.8 212.5,315.8 213.0,314.5 213.5,313.3 214.0,313.4 214.5,313.6 215.0,313.8 215.5,313.8 216.0,313.7 216.5,313.4 217.0,312.7 217.5,312.0 218.0,311.6 218.5,311.4 219.0,311.1 219.5,310.2 220.0,309.1 220.5,307.9 221.0,307.9 221.5,307.8 222.0,307.8 222.5,307.8 223.0,307.8 223.5,307.5 224.0,306.6 224.5,305.7 225.0,305.4 225.5,304.6 226.0,303.8 226.5,303.5 227.0,303.5 227.5,303.5 228.0,301.9 228.5,300.4 229.0,298.8 229.5,297.3 230.0,295.7 230.5,294.4 231.0,293.5 231.5,292.5 232.0,293.2 232.5,294.4 233.0,295.5 233.5,295.7 234.0,295.7 234.5,295.7 235.0,297.3 235.5,299.0 236.0,300.0 236.5,298.9 237.0,297.7 237.5,297.3 238.0,298.0 238.5,298.9 239.0,300.3 239.5,301.9 240.0,303.4 240.5,303.9 241.0,304.2 241.5,304.4 242.0,304.2 242.5,304.0 243.0,303.9 243.5,304.2 244.0,304.5 244.5,305.3 245.0,306.6 245.5,308.0 246.0,307.9 246.5,306.9 247.0,306.0 247.5,307.0 248.0,308.5 248.5,309.0 249.0,306.6 249.5,304.1 250.0,302.2 250.5,302.8 251.0,303.4 251.5,303.6 252.0,303.1 252.5,302.6 253.0,302.3 253.5,302.0 254.0,301.7 254.5,300.4 255.0,299.2 255.5,298.0 256.0,298.9 256.5,299.8 257.0,300.3 257.5,299.3 258.0,298.4 258.5,297.8 259.0,298.0 259.5,298.2 260.0,298.0 260.5,297.7 261.0,297.4 261.5,297.0 262.0,296.4 262.5,295.8 263.0,293.4 263.5,290.9 264.0,288.9 264.5,288.3 265.0,287.7 265.5,286.7 266.0,284.8 266.5,282.9 267.0,281.2 267.5,279.7 268.0,278.2 268.5,277.4 269.0,276.6 269.5,275.8 270.0,276.7 270.5,277.6 271.0,278.3 271.5,278.0 272.0,277.7 272.5,276.5 273.0,273.9 273.5,271.4 274.0,270.7 274.5,270.1 275.0,268.1 275.5,264.7 276.0,261.0 276.5,257.3 277.0,254.3 277.5,251.3 278.0,248.3 278.5,245.1 279.0,242.0 279.5,238.6 280.0,234.7 280.5,230.4 281.0,226.7 281.5,223.7 282.0,220.7 282.5,218.2 283.0,215.3 283.5,212.3 284.0,210.7 284.5,209.1 285.0,211.5 285.5,216.3 286.0,221.1 286.5,224.5 287.0,223.8 287.5,223.0 288.0,222.8 288.5,223.0 289.0,223.2 289.5,222.8 290.0,222.3 290.5,221.7 291.0,221.2 291.5,220.7 292.0,220.2 292.5,219.5 293.0,218.8 293.5,217.6 294.0,218.7 294.5,219.7 295.0,220.1 295.5,220.1 296.0,220.0 296.5,222.5 297.0,225.6 297.5,228.7 298.0,229.6 298.5,230.6 299.0,231.8 299.5,233.8 300.0,233.0 300.5,231.1 301.0,228.7 301.5,226.7 302.0,227.1 302.5,227.8 303.0,228.6 303.5,227.3 304.0,225.6 304.5,227.5 305.0,231.0 305.5,234.5 306.0,238.0 306.5,241.5 307.0,242.2 307.5,241.4 308.0,241.4 308.5,241.3 309.0,240.6 309.5,239.4 310.0,238.3 310.5,236.1 311.0,233.2 311.5,230.4 312.0,229.4 312.5,231.9 313.0,234.0 313.5,234.8 314.0,235.6 314.5,237.1 315.0,239.3 315.5,241.5 316.0,242.7 316.5,243.2 317.0,243.7 317.5,244.5 318.0,239.4 318.5,234.3 319.0,227.0 319.5,219.8 320.0,215.2 320.5,209.0 321.0,206.5 321.5,207.8 322.0,209.8 322.5,211.8 323.0,212.6 323.5,212.6 324.0,212.6 324.5,212.3 325.0,211.5 325.5,210.7 326.0,209.2 326.5,207.6 327.0,206.0 327.5,204.4 328.0,202.9 328.5,201.6 329.0,200.2 329.5,198.9 330.0,198.1 330.5,197.8 331.0,197.5 331.5,196.2 332.0,196.3 332.5,196.8 333.0,199.7 333.5,202.6 334.0,205.2 334.5,206.6 335.0,207.7 335.5,208.3 336.0,208.7 336.5,209.1 337.0,208.4 337.5,206.8 338.0,205.2 338.5,206.4 339.0,208.9 339.5,211.3 340.0,212.4 340.5,213.5 341.0,214.7 341.5,216.1 342.0,217.4 342.5,219.1 343.0,221.2 343.5,223.3 344.0,224.7 344.5,225.7 345.0,226.6 345.5,229.0 346.0,231.3 346.5,233.6 347.0,238.4 347.5,243.3 348.0,247.8 348.5,249.8 349.0,249.8 349.5,249.0 350.0,247.0 350.5,244.9 351.0,245.4 351.5,247.5 352.0,249.7 352.5,249.9 353.0,249.6 353.5,249.4 354.0,248.4 354.5,247.4 355.0,246.7 355.5,248.4 356.0,250.2 356.5,251.7 357.0,252.7 357.5,253.7 358.0,254.7 358.5,255.6 359.0,256.6 359.5,256.5 360.0,256.2 360.5,255.9 361.0,258.3 361.5,260.7 362.0,262.9 362.5,264.4 363.0,266.0 363.5,266.6 364.0,266.0 364.5,265.4 365.0,264.5 365.5,263.4 366.0,262.3 366.5,259.9 367.0,257.2 367.5,254.4 368.0,254.7 368.5,254.7 369.0,254.2 369.5,252.4 370.0,250.6 370.5,249.1 371.0,248.2 371.5,247.2 372.0,244.8 372.5,241.6 373.0,241.0 373.5,241.1 374.0,241.2 374.5,241.4 375.0,244.6 375.5,247.8 376.0,250.3 376.5,250.3 377.0,250.4 377.5,251.1 378.0,253.1 378.5,255.4 379.0,258.3 379.5,261.3 380.0,264.3 380.5,265.2 381.0,265.7 381.5,266.1 382.0,267.8 382.5,269.5 383.0,271.3 383.5,273.0 384.0,273.7 384.5,274.5 385.0,275.8 385.5,277.0 386.0,276.9 386.5,275.8 387.0,273.4 387.5,272.4 388.0,271.8 388.5,271.1 389.0,269.4 389.5,267.7 390.0,266.4 390.5,266.3 391.0,266.3 391.5,266.2 392.0,265.4 392.5,263.9 393.0,261.7 393.5,258.9 394.0,256.2 394.5,254.5 395.0,253.0 395.5,254.8 396.0,256.5 396.5,258.1 397.0,259.5 397.5,260.3 398.0,261.0 398.5,262.0 399.0,263.4 399.5,264.9 400.0,266.6 400.5,268.4 401.0,270.3 401.5,272.2 402.0,273.4 402.5,273.6 403.0,271.6 403.5,269.6 404.0,268.3 404.5,269.7 405.0,271.1 405.5,271.7 406.0,270.9 406.5,270.1 407.0,268.4 407.5,266.2 408.0,263.9 408.5,262.3 409.0,260.9 409.5,259.4 410.0,260.4 410.5,261.3 411.0,261.6 411.5,259.1 412.0,256.6 412.5,254.6 413.0,253.3 413.5,251.7 414.0,249.1 414.5,246.3 415.0,243.6 415.5,241.6 416.0,239.8 416.5,238.1 417.0,237.5 417.5,237.0 418.0,235.7 418.5,233.0 419.0,232.0 419.5,231.8 420.0,232.9 420.5,233.9 421.0,235.7 421.5,238.0 422.0,240.3 422.5,240.9 423.0,241.0 423.5,241.2 424.0,240.5 424.5,239.8 425.0,239.4 425.5,239.2 426.0,239.0 426.5,239.4 427.0,240.6 427.5,241.9 428.0,241.4 428.5,239.9 429.0,238.3 429.5,237.9 430.0,237.9 430.5,238.0 431.0,236.1 431.5,234.2 432.0,232.9 432.5,234.4 433.0,235.8 433.5,236.7 434.0,236.7 434.5,236.9 435.0,238.0 435.5,238.9 436.0,239.9 436.5,240.5 437.0,241.0 437.5,241.6 438.0,241.8 438.5,242.0 439.0,242.2 439.5,243.0 440.0,243.8 440.5,245.2 441.0,247.5 441.5,249.9 442.0,252.1 442.5,254.3 443.0,256.5 443.5,257.6 444.0,257.0 444.5,254.3 445.0,251.7 445.5,249.0 446.0,246.8 446.5,246.0 447.0,245.2 447.5,244.3 448.0,243.2 448.5,242.1 449.0,240.6 449.5,238.9 450.0,237.3 450.5,234.3 451.0,231.1 451.5,228.0 452.0,226.3 452.5,224.7 453.0,223.4 453.5,223.7 454.0,223.9 454.5,223.4 455.0,221.6 455.5,219.8 456.0,218.2 456.5,216.9 457.0,215.6 457.5,214.5 458.0,213.4 458.5,212.3 459.0,211.1 459.5,209.8 460.0,208.5 460.5,205.1 461.0,202.2 461.5,199.3 462.0,196.0 462.5,192.7 463.0,188.9 463.5,185.0 464.0,181.0 464.5,177.9 465.0,174.9 465.5,171.9 466.0,168.3 466.5,164.7 467.0,161.3 467.5,159.2 468.0,159.6 468.5,163.5 469.0,166.9 469.5,170.3 470.0,173.2 470.5,175.8 471.0,178.3 471.5,181.3 472.0,184.4 472.5,187.4 473.0,189.5 473.5,191.6 474.0,194.7 474.5,199.8 475.0,205.0 475.5,209.5 476.0,213.0 476.5,216.5 477.0,219.5 477.5,222.1 478.0,224.8 478.5,225.8 479.0,226.3 479.5,226.9 480.0,226.7 480.5,226.5 481.0,226.6 481.5,226.7 482.0,225.9 482.5,225.0 483.0,223.8 483.5,222.6 484.0,221.2 484.5,219.6 485.0,218.0 485.5,216.8 486.0,215.8 486.5,214.8 487.0,213.8 487.5,212.8 488.0,213.6 488.5,216.5 489.0,219.3 489.5,222.2 490.0,225.1 490.5,225.9 491.0,228.0 491.5,230.9 492.0,233.9 492.5,235.4 493.0,235.4 493.5,235.4 494.0,231.9 494.5,228.4 495.0,225.9 495.5,226.9 496.0,228.0 496.5,228.5 497.0,228.9 497.5,230.5 498.0,232.1 498.5,233.5 499.0,235.0 499.5,234.9 500.0,234.3 500.5,233.7 501.0,234.4 501.5,234.9 502.0,235.8 502.5,238.8 503.0,241.8 503.5,243.5 504.0,243.1 504.5,242.7 505.0,243.1 505.5,244.1 506.0,246.5 506.5,250.4 507.0,254.5 507.5,258.5 508.0,261.4 508.5,262.8 509.0,264.6 509.5,267.6 510.0,270.7 510.5,270.4 511.0,268.4 511.5,266.4 512.0,266.7 512.5,268.6 513.0,270.5 513.5,269.0 514.0,266.8 514.5,264.5 515.0,265.9 515.5,267.7 516.0,268.8 516.5,266.7 517.0,264.6 517.5,264.0 518.0,265.4 518.5,266.8 519.0,266.7 519.5,265.5 520.0,264.3 520.5,265.8 521.0,267.8 521.5,269.8 522.0,270.4 522.5,271.0 523.0,271.7 523.5,273.1 524.0,274.6 524.5,275.7 525.0,276.5 525.5,277.3 526.0,277.4 526.5,277.2 527.0,277.6 527.5,280.4 528.0,283.8 528.5,287.2 529.0,289.0 529.5,290.8 530.0,292.4 530.5,293.6 531.0,294.8 531.5,295.4 532.0,294.0 532.5,292.7 533.0,291.8 533.5,291.3 534.0,290.8 534.5,290.6 535.0,290.5 535.5,290.4 536.0,289.0 536.5,287.7 537.0,286.6 537.5,286.7 538.0,286.8 538.5,286.7 539.0,286.8 539.5,286.8 540.0,286.1 540.5,284.7 541.0,283.4 541.5,282.9 542.0,282.6 542.5,283.5 543.0,285.4 543.5,287.3 544.0,288.9 544.5,289.1 545.0,289.3 545.5,289.4 546.0,289.5 546.5,289.6 547.0,291.2 547.5,293.7 548.0,296.3 548.5,296.4 549.0,296.0 549.5,295.6 550.0,295.8 550.5,296.1 551.0,296.1 551.5,294.9 552.0,293.7 552.5,293.0 553.0,292.9 553.5,292.8 554.0,293.0 554.5,293.4 555.0,293.7 555.5,292.9 556.0,291.9 556.5,290.8 557.0,290.1 557.5,289.4 558.0,288.9 558.5,289.3 559.0,289.8 559.5,289.6 560.0,288.4 560.5,287.1 561.0,284.5 561.5,281.0 562.0,277.4 562.5,275.3 563.0,273.5 563.5,271.8 564.0,270.5 564.5,270.1 565.0,270.4 565.5,271.8 566.0,273.3 566.5,274.0 567.0,273.5 567.5,273.1 568.0,272.2 568.5,271.1 569.0,270.0 569.5,270.7 570.0,271.9 570.5,270.4 571.0,265.6 571.5,260.7 572.0,256.4 572.5,253.9 573.0,252.9 573.5,254.2 574.0,255.5 574.5,256.8 575.0,258.3 575.5,259.8 576.0,261.4 576.5,260.5 577.0,259.0 577.5,257.5 578.0,258.8 578.5,258.9 579.0,258.8 579.5,258.2 580.0,257.6 580.5,256.2 581.0,253.8 581.5,251.3 582.0,250.6 582.5,251.9 583.0,253.2 583.5,254.5 584.0,255.7 584.5,257.0 585.0,258.1 585.5,258.4 586.0,258.5 586.5,258.0 586.5,351.0"/>
<polygon fill="#808080" points="47.5,351.0 47.5,334.6 48.0,334.5 48.5,334.2 49.0,333.7 49.5,333.2 50.0,332.9 50.5,332.8 51.0,332.6 51.5,332.8 52.0,333.1 52.5,333.4 53.0,332.5 53.5,331.6 54.0,330.9 54.5,331.5 55.0,332.0 55.5,332.3 56.0,332.0 56.5,331.7 57.0,331.3 57.5,330.8 58.0,330.3 58.5,330.1 59.0,330.2 59.5,330.2 60.0,330.3 60.5,330.3 61.0,330.4 61.5,330.7 62.0,330.9 62.5,331.2 63.0,331.4 63.5,331.7 64.0,331.8 64.5,331.8 65.0,331.8 65.5,331.9 66.0,332.1 66.5,332.3 67.0,332.9 67.5,333.4 68.0,333.8 68.5,333.8 69.0,333.9 69.5,333.9 70.0,334.1 70.5,334.3 71.0,334.6 71.5,335.0 72.0,335.3 72.5,335.1 73.0,334.8 73.5,334.4 74.0,334.5 74.5,334.5 75.0,334.7 75.5,335.1 76.0,335.3 76.5,335.1 77.0,334.5 77.5,333.8 78.0,333.4 78.5,333.3 79.0,333.1 79.5,333.1 80.0,333.1 80.5,333.2 81.0,333.1 81.5,333.3 82.0,333.5 82.5,333.6 83.0,333.7 83.5,333.7 84.0,333.4 84.5,333.1 85.0,333.0 85.5,332.9 86.0,332.9 86.5,332.8 87.0,332.8 87.5,332.7 88.0,332.6 88.5,332.5 89.0,332.4 89.5,332.0 90.0,331.6 90.5,331.6 91.0,332.1 91.5,332.7 92.0,333.5 92.5,334.3 93.0,335.2 93.5,335.4 94.0,335.4 94.5,335.5 95.0,335.9 95.5,336.3 96.0,336.7 96.5,336.8 97.0,337.0 97.5,336.7 98.0,336.7 98.5,336.8 99.0,336.4 99.5,335.8 100.0,335.2 100.5,335.2 101.0,335.2 101.5,335.3 102.0,335.6 102.5,335.9 103.0,336.1 103.5,335.8 104.0,335.5 104.5,335.4 105.0,335.6 105.5,335.8 106.0,335.9 106.5,335.8 107.0,335.7 107.5,335.7 108.0,335.8 108.5,335.8 109.0,335.3 109.5,334.9 110.0,334.6 110.5,334.9 111.0,335.2 111.5,335.4 112.0,335.4 112.5,335.4 113.0,335.4 113.5,335.6 114.0,335.8 114.5,335.6 115.0,335.2 115.5,334.9 116.0,335.0 116.5,335.1 117.0,335.1 117.5,334.8 118.0,334.4 118.5,334.3 119.0,334.6 119.5,334.8 120.0,334.8 120.5,334.8 121.0,334.8 121.5,334.7 122.0,334.5 122.5,334.4 123.0,335.0 123.5,335.6 124.0,336.0 124.5,335.7 125.0,335.4 125.5,335.4 126.0,335.8 126.5,336.1 127.0,336.2 127.5,336.1 128.0,335.9 128.5,335.9 129.0,336.0 129.5,336.1 130.0,336.1 130.5,336.2 131.0,336.3 131.5,336.3 132.0,336.4 132.5,336.3 133.0,336.0 133.5,335.7 134.0,335.7 134.5,335.9 135.0,336.1 135.5,336.0 136.0,335.8 136.5,335.6 137.0,335.8 137.5,336.1 138.0,336.3 138.5,336.0 139.0,335.8 139.5,335.9 140.0,336.4 140.5,337.0 141.0,337.0 141.5,336.6 142.0,336.2 142.5,336.5 143.0,336.8 143.5,337.2 144.0,337.0 144.5,336.8 145.0,336.8 145.5,337.3 146.0,337.8 146.5,338.1 147.0,338.1 147.5,338.0 148.0,337.9 148.5,337.7 149.0,337.5 149.5,337.7 150.0,338.1 150.5,338.3 151.0,338.5 151.5,338.7 152.0,338.8 152.5,338.9 153.0,338.9 153.5,338.8 154.0,338.5 154.5,338.2 155.0,338.0 155.5,337.8 156.0,337.7 156.5,337.7 157.0,337.8 157.5,337.8 158.0,338.3 158.5,338.7 159.0,339.0 159.5,338.8 160.0,338.5 160.5,338.3 161.0,338.2 161.5,338.1 162.0,338.2 162.5,338.5 163.0,338.8 163.5,338.8 164.0,338.8 164.5,338.7 165.0,338.6 165.5,338.6 166.0,338.5 166.5,338.4 167.0,338.3 167.5,338.2 168.0,338.2 168.5,338.1 169.0,338.1 169.5,338.0 170.0,338.0 170.5,338.0 171.0,337.8 171.5,337.7 172.0,338.1 172.5,338.6 173.0,338.8 173.5,338.5 174.0,338.1 174.5,338.0 175.0,338.2 175.5,338.4 176.0,338.4 176.5,338.2 177.0,338.0 177.5,338.1 178.0,338.2 178.5,338.4 179.0,338.0 179.5,337.7 180.0,337.4 180.5,337.6 181.0,337.8 181.5,337.8 182.0,337.6 182.5,337.4 183.0,337.4 183.5,337.3 184.0,337.3 184.5,337.7 185.0,338.0 185.5,338.2 186.0,337.8 186.5,337.4 187.0,337.0 187.5,336.7 188.0,336.4 188.5,336.1 189.0,335.8 189.5,335.5 190.0,335.3 190.5,335.1 191.0,334.9 191.5,334.3 192.0,333.7 192.5,333.0 193.0,332.7 193.5,332.5 194.0,332.2 194.5,331.8 195.0,331.4 195.5,331.1 196.0,330.7 196.5,330.3 197.0,329.9 197.5,329.5 198.0,328.9 198.5,328.6 199.0,328.4 199.5,328.2 200.0,327.7 200.5,327.3 201.0,326.7 201.5,325.3 202.0,323.9 202.5,323.2 203.0,323.9 203.5,324.8 204.0,324.4 204.5,323.1 205.0,321.7 205.5,321.6 206.0,321.8 206.5,322.1 207.0,321.9 207.5,321.8 208.0,321.5 208.5,320.3 209.0,319.1 209.5,318.4 210.0,318.3 210.5,318.3 211.0,318.5 211.5,318.9 212.0,319.3 212.5,318.3 213.0,316.9 213.5,315.5 214.0,315.9 214.5,316.4 215.0,316.7 215.5,316.6 216.0,316.4 216.5,315.8 217.0,314.7 217.5,313.5 218.0,313.1 218.5,313.2 219.0,313.2 219.5,312.5 220.0,311.6 220.5,310.7 221.0,310.4 221.5,310.2 222.0,309.9 222.5,309.7 223.0,309.4 223.5,309.0 224.0,308.4 224.5,307.8 225.0,307.7 225.5,307.2 226.0,306.7 226.5,306.2 227.0,305.7 227.5,305.2 228.0,303.7 228.5,302.1 229.0,300.5 229.5,299.0 230.0,297.5 230.5,296.3 231.0,295.7 231.5,295.1 232.0,295.9 232.5,297.3 233.0,298.6 233.5,298.3 234.0,297.6 234.5,296.8 235.0,298.8 235.5,300.6 236.0,302.1 236.5,301.8 237.0,301.5 237.5,301.4 238.0,301.5 238.5,301.7 239.0,302.8 239.5,304.5 240.0,306.2 240.5,306.3 241.0,306.0 241.5,305.7 242.0,306.2 242.5,306.6 243.0,306.9 243.5,306.6 244.0,306.4 244.5,306.9 245.0,308.6 245.5,310.2 246.0,310.3 246.5,309.5 247.0,308.6 247.5,309.7 248.0,311.3 248.5,311.9 249.0,309.9 249.5,307.9 250.0,306.2 250.5,305.8 251.0,305.5 251.5,305.0 252.0,304.4 252.5,303.9 253.0,304.0 253.5,304.5 254.0,305.1 254.5,303.6 255.0,301.9 255.5,300.2 256.0,301.0 256.5,301.8 257.0,302.4 257.5,302.2 258.0,301.9 258.5,301.5 259.0,301.1 259.5,300.7 260.0,300.3 260.5,299.9 261.0,299.5 261.5,299.3 262.0,299.0 262.5,298.7 263.0,296.3 263.5,293.7 264.0,291.5 264.5,290.5 265.0,289.6 265.5,288.3 266.0,286.6 266.5,284.9 267.0,283.4 267.5,282.1 268.0,281.0 268.5,280.4 269.0,280.0 269.5,279.6 270.0,280.4 270.5,281.3 271.0,281.8 271.5,281.4 272.0,280.9 272.5,279.4 273.0,276.4 273.5,273.4 274.0,272.5 274.5,272.9 275.0,273.3 275.5,272.7 276.0,271.9 276.5,271.0 277.0,270.3 277.5,269.5 278.0,268.8 278.5,268.1 279.0,267.3 279.5,261.6 280.0,248.3 280.5,238.8 281.0,236.5 281.5,235.0 282.0,233.6 282.5,230.1 283.0,226.4 283.5,223.9 284.0,223.1 284.5,222.2 285.0,223.2 285.5,224.9 286.0,226.6 286.5,227.8 287.0,228.2 287.5,228.6 288.0,229.7 288.5,231.2 289.0,232.8 289.5,232.3 290.0,231.3 290.5,230.3 291.0,229.2 291.5,228.1 292.0,227.0 292.5,226.0 293.0,227.0 293.5,227.8 294.0,227.6 294.5,227.4 295.0,227.0 295.5,226.5 296.0,225.9 296.5,228.7 297.0,232.3 297.5,235.9 298.0,237.0 298.5,238.1 299.0,239.2 299.5,240.5 300.0,241.8 300.5,243.1 301.0,241.3 301.5,239.6 302.0,238.2 302.5,237.2 303.0,236.1 303.5,233.2 304.0,229.9 304.5,231.0 305.0,233.6 305.5,236.1 306.0,238.9 306.5,242.6 307.0,246.3 307.5,249.6 308.0,247.9 308.5,246.1 309.0,244.6 309.5,243.3 310.0,241.9 310.5,240.6 311.0,239.3 311.5,238.0 312.0,237.9 312.5,240.0 313.0,241.6 313.5,241.5 314.0,241.4 314.5,242.3 315.0,244.7 315.5,247.0 316.0,247.8 316.5,247.5 317.0,247.2 317.5,244.5 318.0,239.4 318.5,234.3 319.0,227.0 319.5,219.8 320.0,215.2 320.5,215.3 321.0,215.5 321.5,216.4 322.0,218.4 322.5,220.4 323.0,220.0 323.5,218.1 324.0,216.2 324.5,215.7 325.0,215.4 325.5,215.1 326.0,213.4 326.5,211.7 327.0,210.1 327.5,208.6 328.0,207.2 328.5,205.8 329.0,204.2 329.5,202.7 330.0,201.8 330.5,201.3 331.0,200.8 331.5,200.2 332.0,200.7 332.5,201.2 333.0,203.8 333.5,206.3 334.0,208.6 334.5,209.7 335.0,210.8 335.5,211.9 336.0,213.1 336.5,214.2 337.0,214.2 337.5,213.3 338.0,212.4 338.5,213.3 339.0,214.5 339.5,215.8 340.0,217.2 340.5,218.6 341.0,219.9 341.5,220.5 342.0,221.1 342.5,222.4 343.0,224.4 343.5,226.4 344.0,228.0 344.5,229.2 345.0,230.5 345.5,233.3 346.0,236.0 346.5,238.6 347.0,243.2 347.5,247.8 348.0,252.0 348.5,253.3 349.0,252.8 349.5,251.8 350.0,250.2 350.5,248.6 351.0,249.3 351.5,251.5 352.0,253.7 352.5,254.4 353.0,254.6 353.5,254.8 354.0,253.0 354.5,251.1 355.0,249.9 355.5,252.1 356.0,254.3 356.5,255.9 357.0,256.9 357.5,257.8 358.0,259.0 358.5,260.5 359.0,262.0 359.5,261.7 360.0,261.1 360.5,260.4 361.0,262.6 361.5,264.7 362.0,266.6 362.5,267.5 363.0,268.3 363.5,268.5 364.0,267.9 364.5,267.4 365.0,266.7 365.5,265.9 366.0,265.2 366.5,262.6 367.0,259.6 367.5,256.6 368.0,256.4 368.5,256.3 369.0,256.0 369.5,255.5 370.0,255.1 370.5,253.9 371.0,251.9 371.5,249.9 372.0,247.4 372.5,244.8 373.0,244.3 373.5,245.2 374.0,246.3 374.5,247.4 375.0,249.2 375.5,251.1 376.0,252.6 376.5,253.4 377.0,254.1 377.5,255.2 378.0,256.9 378.5,258.9 379.0,261.1 379.5,263.1 380.0,265.2 380.5,266.2 381.0,267.1 381.5,267.9 382.0,269.4 382.5,270.8 383.0,272.4 383.5,274.7 384.0,277.0 384.5,279.2 385.0,281.1 385.5,280.0 386.0,278.2 386.5,275.8 387.0,273.4 387.5,272.4 388.0,271.8 388.5,271.1 389.0,269.4 389.5,267.7 390.0,266.4 390.5,266.3 391.0,266.3 391.5,266.2 392.0,266.0 392.5,265.8 393.0,264.4 393.5,262.2 394.0,260.0 394.5,258.2 395.0,256.6 395.5,257.3 396.0,259.2 396.5,261.1 397.0,262.7 397.5,262.9 398.0,263.2 398.5,263.8 399.0,264.9 399.5,266.0 400.0,267.4 400.5,268.8 401.0,270.3 401.5,272.2 402.0,274.2 402.5,276.2 403.0,276.0 403.5,275.0 404.0,273.4 404.5,274.2 405.0,275.1 405.5,275.3 406.0,274.3 406.5,273.4 407.0,271.8 407.5,269.7 408.0,267.6 408.5,266.5 409.0,265.5 409.5,264.6 410.0,264.7 410.5,264.1 411.0,263.0 411.5,260.5 412.0,258.0 412.5,255.8 413.0,254.3 413.5,252.7 414.0,251.1 414.5,249.5 415.0,247.9 415.5,246.3 416.0,244.7 416.5,243.1 417.0,244.2 417.5,246.0 418.0,247.2 418.5,246.1 419.0,245.0 419.5,244.2 420.0,243.9 420.5,243.5 421.0,244.3 421.5,245.8 422.0,247.4 422.5,247.2 423.0,246.6 423.5,246.0 424.0,245.0 424.5,244.0 425.0,243.5 425.5,244.2 426.0,245.0 426.5,245.9 427.0,247.0 427.5,248.2 428.0,247.9 428.5,246.6 429.0,245.4 429.5,245.2 430.0,245.2 430.5,245.1 431.0,244.4 431.5,243.7 432.0,243.2 432.5,244.0 433.0,244.7 433.5,245.1 434.0,245.2 434.5,245.4 435.0,247.0 435.5,248.6 436.0,250.3 436.5,251.3 437.0,252.2 437.5,253.0 438.0,253.3 438.5,253.6 439.0,253.8 439.5,253.9 440.0,253.9 440.5,254.9 441.0,257.2 441.5,259.4 442.0,261.5 442.5,263.5 443.0,265.5 443.5,265.4 444.0,263.7 444.5,260.3 445.0,259.2 445.5,258.1 446.0,257.0 446.5,255.9 447.0,254.9 447.5,253.6 448.0,252.2 448.5,250.7 449.0,249.6 449.5,248.6 450.0,247.6 450.5,244.3 451.0,240.7 451.5,237.3 452.0,236.6 452.5,235.9 453.0,235.4 453.5,235.5 454.0,235.7 454.5,235.1 455.0,233.3 455.5,231.5 456.0,230.3 456.5,229.5 457.0,228.7 457.5,228.2 458.0,227.1 458.5,223.5 459.0,219.0 459.5,214.5 460.0,209.9 460.5,205.1 461.0,202.2 461.5,200.3 462.0,199.2 462.5,198.0 463.0,195.9 463.5,193.3 464.0,190.6 464.5,188.3 465.0,186.1 465.5,183.9 466.0,181.7 466.5,179.5 467.0,177.5 467.5,179.6 468.0,183.7 468.5,187.2 469.0,190.0 469.5,192.8 470.0,196.1 470.5,197.5 471.0,198.9 471.5,199.2 472.0,199.1 472.5,199.1 473.0,200.1 473.5,201.1 474.0,203.9 474.5,209.3 475.0,214.7 475.5,219.6 476.0,223.7 476.5,224.3 477.0,226.5 477.5,229.7 478.0,232.9 478.5,234.9 479.0,236.1 479.5,235.4 480.0,234.1 480.5,232.9 481.0,231.9 481.5,231.7 482.0,231.5 482.5,231.1 483.0,230.2 483.5,229.8 484.0,231.3 484.5,232.7 485.0,234.2 485.5,236.8 486.0,239.6 486.5,242.5 487.0,244.0 487.5,245.6 488.0,245.9 488.5,244.0 489.0,242.1 489.5,240.4 490.0,239.0 490.5,237.6 491.0,237.3 491.5,237.7 492.0,238.1 492.5,238.9 493.0,240.6 493.5,242.3 494.0,241.5 494.5,240.6 495.0,240.4 495.5,242.5 496.0,244.6 496.5,246.5 497.0,248.4 497.5,250.2 498.0,251.5 498.5,252.4 499.0,253.3 499.5,252.2 500.0,250.7 500.5,249.3 501.0,249.2 501.5,249.1 502.0,249.6 502.5,251.9 503.0,254.3 503.5,255.1 504.0,255.2 504.5,255.4 505.0,256.4 505.5,258.1 506.0,259.7 506.5,262.3 507.0,265.1 507.5,267.9 508.0,269.2 508.5,270.6 509.0,272.2 509.5,274.8 510.0,277.5 510.5,277.3 511.0,276.1 511.5,274.8 512.0,274.9 512.5,275.7 513.0,276.6 513.5,275.5 514.0,273.9 514.5,272.3 515.0,273.4 515.5,274.6 516.0,275.0 516.5,272.7 517.0,271.1 517.5,271.3 518.0,273.7 518.5,276.1 519.0,276.7 519.5,276.0 520.0,275.4 520.5,276.2 521.0,277.4 521.5,278.5 522.0,279.7 522.5,280.9 523.0,282.2 523.5,283.9 524.0,285.7 524.5,286.7 525.0,286.7 525.5,286.7 526.0,286.7 526.5,286.9 527.0,287.4 527.5,289.6 528.0,292.2 528.5,294.8 529.0,296.0 529.5,297.3 530.0,298.6 530.5,299.9 531.0,301.2 531.5,301.7 532.0,300.2 532.5,298.7 533.0,298.0 533.5,297.8 534.0,297.6 534.5,297.1 535.0,296.4 535.5,295.8 536.0,295.1 536.5,294.5 537.0,293.9 537.5,293.6 538.0,293.2 538.5,293.4 539.0,294.1 539.5,294.9 540.0,294.7 540.5,293.9 541.0,293.1 541.5,293.3 542.0,293.9 542.5,294.6 543.0,296.6 543.5,298.6 544.0,300.2 544.5,300.1 545.0,300.1 545.5,299.7 546.0,299.1 546.5,298.4 547.0,299.4 547.5,301.5 548.0,303.6 548.5,303.7 549.0,303.3 549.5,302.9 550.0,303.1 550.5,303.3 551.0,303.2 551.5,301.9 552.0,300.5 552.5,299.8 553.0,299.8 553.5,299.9 554.0,300.0 554.5,300.0 555.0,300.0 555.5,299.0 556.0,297.6 556.5,296.3 557.0,295.7 557.5,295.1 558.0,294.7 558.5,295.2 559.0,295.8 559.5,295.9 560.0,295.4 560.5,295.0 561.0,292.9 561.5,289.8 562.0,286.8 562.5,285.6 563.0,285.0 563.5,284.4 564.0,282.9 564.5,281.3 565.0,280.3 565.5,281.3 566.0,282.5 566.5,283.2 567.0,282.8 567.5,282.5 568.0,281.1 568.5,279.0 569.0,277.0 569.5,277.7 570.0,279.0 570.5,279.5 571.0,276.4 571.5,273.3 572.0,270.6 572.5,269.3 573.0,268.4 573.5,269.0 574.0,269.7 574.5,270.5 575.0,271.5 575.5,272.7 576.0,273.9 576.5,272.6 577.0,270.7 577.5,268.8 578.0,270.1 578.5,271.4 579.0,272.7 579.5,273.8 580.0,274.8 580.5,275.0 581.0,273.7 581.5,272.5 582.0,272.7 582.5,273.7 583.0,274.8 583.5,275.2 584.0,275.4 584.5,275.6 585.0,276.9 585.5,278.2 586.0,279.4 586.5,279.9 586.5,351.0"/>
<polygon fill="#6dbd80" points="47.5,351.0 47.5,335.8 48.0,335.4 48.5,335.0 49.0,334.7 49.5,334.4 50.0,334.2 50.5,334.1 51.0,333.9 51.5,334.0 52.0,334.0 52.5,334.1 53.0,333.3 53.5,332.5 54.0,331.9 54.5,332.5 55.0,333.2 55.5,333.4 56.0,333.2 56.5,332.9 57.0,332.4 57.5,331.9 58.0,331.4 58.5,331.3 59.0,331.4 59.5,331.5 60.0,331.5 60.5,331.5 61.0,331.6 61.5,331.7 62.0,331.9 62.5,332.1 63.0,332.4 63.5,332.8 64.0,333.0 64.5,333.3 65.0,333.5 65.5,333.7 66.0,333.8 66.5,334.0 67.0,334.3 67.5,334.6 68.0,334.8 68.5,334.9 69.0,335.0 69.5,335.1 70.0,335.1 70.5,335.2 71.0,335.5 71.5,336.0 72.0,336.5 72.5,336.1 73.0,335.6 73.5,335.1 74.0,335.3 74.5,335.5 75.0,335.8 75.5,336.3 76.0,336.6 76.5,336.5 77.0,335.8 77.5,335.2 78.0,334.8 78.5,334.5 79.0,334.3 79.5,334.4 80.0,334.6 80.5,334.8 81.0,334.5 81.5,334.4 82.0,334.3 82.5,334.8 83.0,335.2 83.5,335.3 84.0,334.8 84.5,334.4 85.0,334.2 85.5,334.1 86.0,334.0 86.5,333.9 87.0,333.9 87.5,333.8 88.0,333.7 88.5,333.7 89.0,333.6 89.5,333.3 90.0,333.0 90.5,333.1 91.0,333.7 91.5,334.4 92.0,335.1 92.5,335.7 93.0,336.4 93.5,336.6 94.0,336.7 94.5,336.8 95.0,337.1 95.5,337.4 96.0,337.7 96.5,337.8 97.0,338.0 97.5,337.8 98.0,338.1 98.5,338.4 99.0,338.2 99.5,337.8 100.0,337.3 100.5,337.2 101.0,337.2 101.5,337.1 102.0,337.3 102.5,337.4 103.0,337.5 103.5,337.4 104.0,337.3 104.5,337.3 105.0,337.5 105.5,337.6 106.0,337.6 106.5,337.5 107.0,337.3 107.5,337.3 108.0,337.2 108.5,337.2 109.0,336.8 109.5,336.4 110.0,336.1 110.5,336.3 111.0,336.6 111.5,336.7 112.0,336.5 112.5,336.4 113.0,336.4 113.5,336.5 114.0,336.6 114.5,336.5 115.0,336.3 115.5,336.1 116.0,336.1 116.5,336.1 117.0,336.0 117.5,335.7 118.0,335.5 118.5,335.4 119.0,335.7 119.5,336.0 120.0,336.0 120.5,335.9 121.0,335.8 121.5,335.7 122.0,335.6 122.5,335.6 123.0,336.1 123.5,336.6 124.0,336.9 124.5,336.5 125.0,336.2 125.5,336.1 126.0,336.7 126.5,337.2 127.0,337.3 127.5,337.1 128.0,336.8 128.5,336.7 129.0,336.6 129.5,336.6 130.0,336.6 130.5,336.7 131.0,336.8 131.5,336.8 132.0,336.9 132.5,336.9 133.0,336.8 133.5,336.8 134.0,336.8 134.5,336.9 135.0,337.0 135.5,336.9 136.0,336.9 136.5,336.8 137.0,337.1 137.5,337.5 138.0,337.7 138.5,337.6 139.0,337.4 139.5,337.6 140.0,338.1 140.5,338.6 141.0,338.6 141.5,338.3 142.0,337.9 142.5,338.0 143.0,338.1 143.5,338.3 144.0,338.1 144.5,338.0 145.0,337.9 145.5,338.4 146.0,338.8 146.5,338.9 147.0,338.8 147.5,338.6 148.0,338.5 148.5,338.3 149.0,338.2 149.5,338.5 150.0,339.0 150.5,339.4 151.0,339.5 151.5,339.5 152.0,339.6 152.5,339.6 153.0,339.6 153.5,339.5 154.0,339.3 154.5,339.1 155.0,338.9 155.5,338.8 156.0,338.6 156.5,338.8 157.0,338.9 157.5,339.1 158.0,339.4 158.5,339.6 159.0,339.8 159.5,339.7 160.0,339.6 160.5,339.5 161.0,339.2 161.5,338.9 162.0,339.1 162.5,339.6 163.0,340.0 163.5,339.9 164.0,339.7 164.5,339.4 165.0,339.4 165.5,339.4 166.0,339.4 166.5,339.3 167.0,339.2 167.5,339.2 168.0,339.2 168.5,339.3 169.0,339.2 169.5,339.2 170.0,339.1 170.5,339.0 171.0,338.9 171.5,338.7 172.0,339.0 172.5,339.4 173.0,339.6 173.5,339.3 174.0,339.1 174.5,339.0 175.0,339.1 175.5,339.2 176.0,339.2 176.5,339.2 177.0,339.1 177.5,339.1 178.0,339.1 178.5,339.1 179.0,338.9 179.5,338.7 180.0,338.5 180.5,338.6 181.0,338.6 181.5,338.6 182.0,338.5 182.5,338.3 183.0,338.3 183.5,338.4 184.0,338.4 184.5,338.7 185.0,339.1 185.5,339.2 186.0,338.9 186.5,338.5 187.0,338.2 187.5,337.7 188.0,337.2 188.5,336.8 189.0,336.6 189.5,336.3 190.0,336.2 190.5,336.2 191.0,336.1 191.5,335.5 192.0,334.8 192.5,334.0 193.0,333.8 193.5,333.6 194.0,333.4 194.5,333.2 195.0,332.9 195.5,332.5 196.0,331.9 196.5,331.4 197.0,331.0 197.5,330.7 198.0,330.3 198.5,330.0 199.0,329.7 199.5,329.5 200.0,329.1 200.5,328.7 201.0,328.3 201.5,327.2 202.0,326.1 202.5,325.5 203.0,325.8 203.5,326.2 204.0,325.8 204.5,324.7 205.0,323.6 205.5,323.8 206.0,324.3 206.5,324.8 207.0,324.3 207.5,323.9 208.0,323.3 208.5,322.4 209.0,321.4 209.5,320.9 210.0,321.0 210.5,321.2 211.0,321.2 211.5,321.0 212.0,320.9 212.5,319.9 213.0,318.6 213.5,317.3 214.0,317.6 214.5,318.0 215.0,318.3 215.5,318.2 216.0,318.2 216.5,317.9 217.0,317.3 217.5,316.7 218.0,316.2 218.5,315.7 219.0,315.2 219.5,314.6 220.0,314.1 220.5,313.5 221.0,313.0 221.5,312.5 222.0,312.0 222.5,312.1 223.0,312.1 223.5,311.8 224.0,311.2 224.5,310.5 225.0,310.2 225.5,309.8 226.0,309.4 226.5,309.2 227.0,309.0 227.5,308.9 228.0,307.7 228.5,306.5 229.0,305.2 229.5,303.6 230.0,302.0 230.5,300.7 231.0,299.9 231.5,299.1 232.0,300.3 232.5,302.3 233.0,304.3 233.5,304.1 234.0,303.3 234.5,302.6 235.0,304.0 235.5,305.5 236.0,306.7 236.5,306.9 237.0,307.1 237.5,307.4 238.0,308.0 238.5,308.3 239.0,308.6 239.5,309.2 240.0,309.7 240.5,309.4 241.0,308.9 241.5,308.5 242.0,308.4 242.5,308.3 243.0,308.2 243.5,307.5 244.0,306.9 244.5,307.6 245.0,309.3 245.5,311.1 246.0,311.6 246.5,311.4 247.0,311.2 247.5,312.4 248.0,313.8 248.5,314.0 249.0,312.0 249.5,309.9 250.0,308.1 250.5,307.9 251.0,307.7 251.5,307.6 252.0,307.4 252.5,307.3 253.0,307.2 253.5,307.2 254.0,307.2 254.5,305.8 255.0,304.4 255.5,303.0 256.0,303.5 256.5,304.1 257.0,304.4 257.5,303.7 258.0,303.0 258.5,302.6 259.0,302.8 259.5,303.0 260.0,302.8 260.5,302.5 261.0,302.1 261.5,302.2 262.0,302.3 262.5,302.4 263.0,300.2 263.5,298.0 264.0,295.9 264.5,294.5 265.0,293.0 265.5,291.9 266.0,291.2 266.5,290.4 267.0,289.2 267.5,287.5 268.0,286.0 268.5,285.9 269.0,286.2 269.5,286.4 270.0,287.3 270.5,288.1 271.0,288.6 271.5,287.9 272.0,287.2 272.5,285.9 273.0,283.9 273.5,281.9 274.0,281.5 274.5,281.7 275.0,281.4 275.5,280.0 276.0,278.3 276.5,276.7 277.0,275.4 277.5,274.1 278.0,272.8 278.5,271.5 279.0,270.1 279.5,267.5 280.0,263.7 280.5,259.9 281.0,257.7 281.5,256.6 282.0,255.6 282.5,252.0 283.0,247.8 283.5,243.6 284.0,242.3 284.5,240.9 285.0,239.4 285.5,237.3 286.0,238.0 286.5,239.0 287.0,239.6 287.5,240.1 288.0,240.7 288.5,241.5 289.0,242.2 289.5,243.1 290.0,244.5 290.5,245.8 291.0,246.5 291.5,247.1 292.0,247.8 292.5,248.1 293.0,248.5 293.5,248.9 294.0,249.3 294.5,249.7 295.0,249.8 295.5,249.7 296.0,249.6 296.5,251.9 297.0,254.8 297.5,257.7 298.0,256.6 298.5,255.5 299.0,254.6 299.5,254.2 300.0,253.8 300.5,253.2 301.0,252.5 301.5,251.7 302.0,251.5 302.5,251.6 303.0,251.7 303.5,252.0 304.0,252.9 304.5,253.8 305.0,255.3 305.5,256.9 306.0,258.6 306.5,259.7 307.0,260.7 307.5,261.9 308.0,263.4 308.5,264.9 309.0,265.8 309.5,266.3 310.0,266.8 310.5,266.5 311.0,265.5 311.5,264.5 312.0,264.4 312.5,264.2 313.0,263.7 313.5,261.8 314.0,260.0 314.5,259.6 315.0,262.8 315.5,266.0 316.0,267.4 316.5,267.6 317.0,267.8 317.5,268.8 318.0,267.8 318.5,266.8 319.0,262.2 319.5,257.6 320.0,253.7 320.5,253.8 321.0,254.4 321.5,255.0 322.0,255.8 322.5,256.6 323.0,256.0 323.5,254.5 324.0,252.9 324.5,253.1 325.0,253.8 325.5,254.5 326.0,253.7 326.5,252.8 327.0,252.0 327.5,250.9 328.0,249.9 328.5,248.8 329.0,247.6 329.5,246.3 330.0,246.4 330.5,247.3 331.0,248.2 331.5,247.6 332.0,247.2 332.5,246.7 333.0,248.8 333.5,250.8 334.0,252.7 334.5,253.9 335.0,255.1 335.5,256.0 336.0,256.5 336.5,257.0 337.0,256.3 337.5,254.6 338.0,252.9 338.5,253.3 339.0,254.2 339.5,255.1 340.0,255.0 340.5,255.0 341.0,254.9 341.5,254.9 342.0,255.2 342.5,256.3 343.0,258.5 343.5,260.7 344.0,262.4 344.5,263.9 345.0,265.3 345.5,266.1 346.0,266.5 346.5,266.8 347.0,270.2 347.5,273.5 348.0,276.5 348.5,277.4 349.0,277.3 349.5,277.0 350.0,276.4 350.5,275.8 351.0,276.6 351.5,278.2 352.0,279.8 352.5,280.9 353.0,281.8 353.5,282.7 354.0,281.1 354.5,279.4 355.0,278.4 355.5,280.2 356.0,282.1 356.5,283.5 357.0,284.3 357.5,285.1 358.0,285.6 358.5,286.0 359.0,286.4 359.5,285.9 360.0,285.1 360.5,284.0 361.0,285.9 361.5,287.7 362.0,289.3 362.5,289.9 363.0,290.4 363.5,290.9 364.0,291.2 364.5,290.4 365.0,288.8 365.5,287.1 366.0,285.5 366.5,283.3 367.0,281.0 367.5,278.7 368.0,277.9 368.5,277.1 369.0,276.3 369.5,275.6 370.0,274.9 370.5,275.7 371.0,276.2 371.5,276.6 372.0,276.0 372.5,274.8 373.0,273.6 373.5,273.3 374.0,273.2 374.5,273.1 375.0,274.7 375.5,276.9 376.0,278.6 376.5,278.1 377.0,277.7 377.5,278.3 378.0,280.6 378.5,282.9 379.0,284.8 379.5,286.5 380.0,288.2 380.5,289.4 381.0,290.1 381.5,290.9 382.0,292.5 382.5,294.3 383.0,296.2 383.5,297.8 384.0,298.0 384.5,298.0 385.0,297.7 385.5,297.3 386.0,296.5 386.5,295.2 387.0,294.0 387.5,293.8 388.0,294.0 388.5,294.2 389.0,293.1 389.5,292.1 390.0,291.4 390.5,292.3 391.0,293.2 391.5,293.6 392.0,293.6 392.5,293.5 393.0,292.8 393.5,291.7 394.0,290.6 394.5,290.1 395.0,289.6 395.5,289.2 396.0,289.3 396.5,290.3 397.0,291.1 397.5,291.3 398.0,291.5 398.5,291.8 399.0,292.3 399.5,292.7 400.0,293.4 400.5,294.1 401.0,294.9 401.5,295.9 402.0,297.0 402.5,298.1 403.0,297.2 403.5,296.4 404.0,296.2 404.5,298.3 405.0,300.5 405.5,299.8 406.0,297.6 406.5,295.4 407.0,293.4 407.5,291.6 408.0,289.7 408.5,288.2 409.0,286.7 409.5,285.2 410.0,284.6 410.5,283.9 411.0,282.9 411.5,280.6 412.0,278.3 412.5,276.3 413.0,275.0 413.5,273.6 414.0,272.0 414.5,270.2 415.0,268.4 415.5,268.1 416.0,267.9 416.5,267.7 417.0,269.0 417.5,270.2 418.0,270.8 418.5,268.9 419.0,267.1 419.5,265.9 420.0,265.8 420.5,266.0 421.0,266.7 421.5,267.6 422.0,268.6 422.5,268.5 423.0,268.1 423.5,267.7 424.0,266.8 424.5,265.8 425.0,265.3 425.5,266.5 426.0,267.8 426.5,268.8 427.0,269.4 427.5,270.0 428.0,269.5 428.5,268.4 429.0,267.3 429.5,268.3 430.0,269.8 430.5,271.3 431.0,269.3 431.5,267.3 432.0,266.2 432.5,268.5 433.0,270.7 433.5,272.2 434.0,272.3 434.5,272.6 435.0,273.3 435.5,274.0 436.0,274.7 436.5,275.0 437.0,275.2 437.5,275.4 438.0,275.3 438.5,275.1 439.0,275.0 439.5,275.0 440.0,274.9 440.5,275.6 441.0,277.4 441.5,279.2 442.0,280.8 442.5,282.3 443.0,283.8 443.5,283.7 444.0,282.4 444.5,279.9 445.0,279.3 445.5,278.7 446.0,278.0 446.5,277.0 447.0,276.0 447.5,275.3 448.0,274.9 448.5,274.6 449.0,273.7 449.5,272.6 450.0,271.4 450.5,268.4 451.0,264.9 451.5,261.4 452.0,260.6 452.5,259.9 453.0,259.2 453.5,259.0 454.0,258.9 454.5,258.1 455.0,256.4 455.5,254.7 456.0,253.8 456.5,253.5 457.0,253.2 457.5,252.3 458.0,251.1 458.5,250.0 459.0,248.5 459.5,247.0 460.0,245.5 460.5,243.9 461.0,242.4 461.5,241.1 462.0,240.2 462.5,239.3 463.0,237.1 463.5,234.2 464.0,231.3 464.5,229.4 465.0,227.8 465.5,226.1 466.0,223.9 466.5,221.6 467.0,219.6 467.5,218.7 468.0,217.8 468.5,218.0 469.0,223.1 469.5,228.2 470.0,232.8 470.5,234.5 471.0,236.1 471.5,237.5 472.0,238.9 472.5,240.3 473.0,242.1 473.5,243.8 474.0,245.7 474.5,248.0 475.0,248.7 475.5,249.2 476.0,249.0 476.5,248.9 477.0,250.2 477.5,252.4 478.0,254.6 478.5,254.4 479.0,253.6 479.5,252.7 480.0,253.2 480.5,253.8 481.0,254.3 481.5,254.0 482.0,253.2 482.5,252.4 483.0,251.6 483.5,250.9 484.0,249.6 484.5,247.9 485.0,246.2 485.5,245.9 486.0,247.5 486.5,249.6 487.0,251.4 487.5,253.2 488.0,254.6 488.5,254.2 489.0,253.8 489.5,253.8 490.0,254.3 490.5,254.8 491.0,256.4 491.5,258.7 492.0,261.0 492.5,262.1 493.0,262.4 493.5,262.8 494.0,261.1 494.5,259.4 495.0,258.3 495.5,259.8 496.0,261.3 496.5,262.4 497.0,262.6 497.5,262.9 498.0,263.4 498.5,263.8 499.0,264.3 499.5,263.7 500.0,262.7 500.5,261.6 501.0,261.5 501.5,261.3 502.0,261.7 502.5,264.4 503.0,267.2 503.5,268.3 504.0,269.1 504.5,269.9 505.0,272.1 505.5,275.0 506.0,278.0 506.5,281.4 507.0,284.9 507.5,286.3 508.0,286.5 508.5,286.7 509.0,287.0 509.5,287.6 510.0,288.3 510.5,287.8 511.0,286.5 511.5,285.1 512.0,285.6 512.5,287.3 513.0,289.0 513.5,287.9 514.0,286.2 514.5,284.5 515.0,286.1 515.5,287.6 516.0,288.6 516.5,287.1 517.0,285.6 517.5,284.9 518.0,285.5 518.5,286.5 519.0,286.6 519.5,285.7 520.0,284.8 520.5,285.9 521.0,287.5 521.5,289.1 522.0,290.2 522.5,291.3 523.0,292.6 523.5,294.3 524.0,296.0 524.5,297.0 525.0,296.8 525.5,296.6 526.0,296.3 526.5,296.0 527.0,295.9 527.5,298.1 528.0,300.8 528.5,303.5 529.0,304.3 529.5,305.1 530.0,305.9 530.5,306.9 531.0,307.9 531.5,307.9 532.0,306.1 532.5,304.3 533.0,303.5 533.5,303.4 534.0,303.3 534.5,302.7 535.0,302.0 535.5,301.3 536.0,301.0 536.5,300.6 537.0,300.3 537.5,300.4 538.0,300.5 538.5,300.7 539.0,301.2 539.5,301.7 540.0,301.5 540.5,300.8 541.0,300.0 541.5,299.7 542.0,299.8 542.5,299.8 543.0,302.0 543.5,304.1 544.0,305.8 544.5,306.0 545.0,306.2 545.5,306.3 546.0,306.2 546.5,306.2 547.0,306.9 547.5,307.9 548.0,309.0 548.5,309.3 549.0,309.4 549.5,309.6 550.0,309.6 550.5,309.7 551.0,309.6 551.5,308.7 552.0,307.8 552.5,307.2 553.0,306.9 553.5,306.6 554.0,306.2 554.5,305.8 555.0,305.3 555.5,305.1 556.0,305.0 556.5,304.8 557.0,303.7 557.5,302.6 558.0,301.8 558.5,302.2 559.0,302.7 559.5,302.8 560.0,302.4 560.5,301.9 561.0,300.4 561.5,298.1 562.0,295.7 562.5,294.9 563.0,294.4 563.5,293.9 564.0,293.2 564.5,292.4 565.0,292.2 565.5,293.7 566.0,295.2 566.5,295.6 567.0,294.7 567.5,293.8 568.0,292.0 568.5,289.8 569.0,287.5 569.5,287.6 570.0,288.4 570.5,289.2 571.0,286.6 571.5,284.1 572.0,282.1 572.5,282.4 573.0,282.9 573.5,284.0 574.0,284.1 574.5,284.1 575.0,285.2 575.5,286.9 576.0,288.7 576.5,288.5 577.0,287.9 577.5,287.2 578.0,288.4 578.5,289.5 579.0,290.7 579.5,292.0 580.0,292.9 580.5,292.8 581.0,291.5 581.5,290.2 582.0,290.1 582.5,290.9 583.0,291.6 583.5,292.0 584.0,292.3 584.5,292.7 585.0,294.2 585.5,295.8 586.0,297.0 586.5,296.8 586.5,351.0"/>
<polygon fill="#33205a" points="47.5,351.0 47.5,340.1 48.0,339.8 48.5,339.6 49.0,339.4 49.5,339.2 50.0,339.1 50.5,339.0 51.0,338.9 51.5,338.9 52.0,339.0 52.5,339.0 53.0,338.7 53.5,338.3 54.0,338.0 54.5,338.2 55.0,338.3 55.5,338.4 56.0,338.3 56.5,338.2 57.0,338.0 57.5,337.8 58.0,337.5 58.5,337.5 59.0,337.7 59.5,337.9 60.0,337.9 60.5,337.9 61.0,337.9 61.5,338.2 62.0,338.5 62.5,338.8 63.0,339.0 63.5,339.2 64.0,339.3 64.5,339.4 65.0,339.5 65.5,339.6 66.0,339.8 66.5,340.0 67.0,340.2 67.5,340.5 68.0,340.6 68.5,340.6 69.0,340.6 69.5,340.6 70.0,340.6 70.5,340.6 71.0,340.8 71.5,341.0 72.0,341.2 72.5,341.0 73.0,340.8 73.5,340.6 74.0,340.5 74.5,340.4 75.0,340.4 75.5,340.8 76.0,341.1 76.5,341.2 77.0,341.0 77.5,340.8 78.0,340.8 78.5,340.8 79.0,340.9 79.5,341.0 80.0,341.2 80.5,341.4 81.0,341.4 81.5,341.4 82.0,341.4 82.5,341.4 83.0,341.5 83.5,341.5 84.0,341.4 84.5,341.3 85.0,341.3 85.5,341.3 86.0,341.3 86.5,341.3 87.0,341.2 87.5,341.2 88.0,341.0 88.5,340.8 89.0,340.7 89.5,340.8 90.0,340.9 90.5,341.1 91.0,341.2 91.5,341.4 92.0,341.6 92.5,341.9 93.0,342.3 93.5,342.3 94.0,342.4 94.5,342.4 95.0,342.6 95.5,342.7 96.0,342.9 96.5,342.9 97.0,342.9 97.5,343.0 98.0,343.3 98.5,343.5 99.0,343.6 99.5,343.4 100.0,343.2 100.5,343.2 101.0,343.2 101.5,343.3 102.0,343.5 102.5,343.7 103.0,343.8 103.5,343.8 104.0,343.8 104.5,343.8 105.0,343.9 105.5,344.0 106.0,344.1 106.5,344.0 107.0,344.0 107.5,344.1 108.0,344.1 108.5,344.2 109.0,344.0 109.5,343.8 110.0,343.6 110.5,343.6 111.0,343.6 111.5,343.6 112.0,343.4 112.5,343.3 113.0,343.3 113.5,343.2 114.0,343.2 114.5,343.1 115.0,342.8 115.5,342.6 116.0,342.5 116.5,342.4 117.0,342.3 117.5,341.9 118.0,341.6 118.5,341.6 119.0,341.7 119.5,341.9 120.0,341.9 120.5,341.8 121.0,341.7 121.5,341.6 122.0,341.6 122.5,341.5 123.0,341.8 123.5,342.1 124.0,342.4 124.5,342.2 125.0,342.1 125.5,342.0 126.0,342.2 126.5,342.3 127.0,342.3 127.5,342.3 128.0,342.2 128.5,342.1 129.0,342.0 129.5,341.9 130.0,342.0 130.5,342.1 131.0,342.2 131.5,342.3 132.0,342.4 132.5,342.4 133.0,342.2 133.5,342.0 134.0,342.0 134.5,342.2 135.0,342.4 135.5,342.4 136.0,342.4 136.5,342.4 137.0,342.5 137.5,342.6 138.0,342.7 138.5,342.6 139.0,342.5 139.5,342.6 140.0,343.0 140.5,343.4 141.0,343.3 141.5,343.1 142.0,342.8 142.5,342.9 143.0,343.2 143.5,343.5 144.0,343.3 144.5,343.1 145.0,343.0 145.5,343.2 146.0,343.4 146.5,343.5 147.0,343.5 147.5,343.4 148.0,343.4 148.5,343.4 149.0,343.3 149.5,343.4 150.0,343.6 150.5,343.7 151.0,343.8 151.5,343.9 152.0,344.0 152.5,344.1 153.0,344.1 153.5,344.1 154.0,344.0 154.5,344.0 155.0,343.8 155.5,343.6 156.0,343.4 156.5,343.5 157.0,343.5 157.5,343.6 158.0,343.9 158.5,344.1 159.0,344.3 159.5,344.2 160.0,344.2 160.5,344.0 161.0,343.9 161.5,343.8 162.0,343.8 162.5,344.0 163.0,344.2 163.5,344.2 164.0,344.1 164.5,344.0 165.0,344.0 165.5,344.0 166.0,344.0 166.5,344.0 167.0,344.0 167.5,344.0 168.0,344.0 168.5,343.9 169.0,343.9 169.5,343.9 170.0,343.8 170.5,343.8 171.0,343.8 171.5,343.7 172.0,343.9 172.5,344.2 173.0,344.3 173.5,344.2 174.0,344.1 174.5,344.1 175.0,344.2 175.5,344.3 176.0,344.3 176.5,344.2 177.0,344.1 177.5,344.1 178.0,344.2 178.5,344.3 179.0,344.2 179.5,344.1 180.0,343.9 180.5,344.0 181.0,344.0 181.5,344.0 182.0,343.9 182.5,343.9 183.0,343.9 183.5,344.0 184.0,344.1 184.5,344.3 185.0,344.5 185.5,344.5 186.0,344.2 186.5,343.9 187.0,343.6 187.5,343.3 188.0,343.0 188.5,342.7 189.0,342.6 189.5,342.5 190.0,342.4 190.5,342.2 191.0,342.0 191.5,341.5 192.0,341.0 192.5,340.5 193.0,340.2 193.5,339.9 194.0,339.6 194.5,339.3 195.0,339.0 195.5,338.7 196.0,338.3 196.5,337.9 197.0,337.5 197.5,337.1 198.0,336.9 198.5,336.7 199.0,336.7 199.5,336.6 200.0,336.6 200.5,336.6 201.0,336.5 201.5,335.7 202.0,334.8 202.5,334.4 203.0,334.7 203.5,334.9 204.0,334.5 204.5,333.6 205.0,332.6 205.5,332.8 206.0,333.2 206.5,333.7 207.0,333.5 207.5,333.3 208.0,332.9 208.5,332.2 209.0,331.4 209.5,330.9 210.0,330.9 210.5,330.9 211.0,330.8 211.5,330.6 212.0,330.4 212.5,329.6 213.0,328.5 213.5,327.5 214.0,327.8 214.5,328.0 215.0,328.3 215.5,328.2 216.0,328.1 216.5,327.8 217.0,327.1 217.5,326.4 218.0,326.0 218.5,325.8 219.0,325.6 219.5,324.9 220.0,324.0 220.5,323.1 221.0,322.6 221.5,322.0 222.0,321.6 222.5,321.9 223.0,322.2 223.5,322.0 224.0,321.1 224.5,320.2 225.0,319.8 225.5,319.4 226.0,319.1 226.5,319.3 227.0,319.8 227.5,320.3 228.0,319.3 228.5,318.3 229.0,317.3 229.5,316.4 230.0,315.5 230.5,314.6 231.0,313.7 231.5,312.8 232.0,313.4 232.5,314.6 233.0,315.8 233.5,315.6 234.0,315.2 234.5,314.8 235.0,316.3 235.5,317.8 236.0,319.0 236.5,318.7 237.0,318.5 237.5,318.4 238.0,318.4 238.5,318.3 239.0,318.8 239.5,319.7 240.0,320.7 240.5,320.7 241.0,320.4 241.5,320.1 242.0,320.1 242.5,320.0 243.0,319.9 243.5,320.0 244.0,320.1 244.5,320.3 245.0,320.8 245.5,321.4 246.0,321.5 246.5,321.4 247.0,321.3 247.5,321.8 248.0,322.5 248.5,323.2 249.0,322.7 249.5,322.2 250.0,321.6 250.5,321.8 251.0,321.9 251.5,322.0 252.0,322.1 252.5,322.2 253.0,322.4 253.5,322.7 254.0,323.1 254.5,322.1 255.0,320.8 255.5,319.2 256.0,319.3 256.5,319.4 257.0,319.5 257.5,319.1 258.0,318.8 258.5,318.3 259.0,317.6 259.5,316.9 260.0,316.1 260.5,315.3 261.0,314.4 261.5,314.2 262.0,314.2 262.5,314.2 263.0,313.3 263.5,312.3 264.0,311.4 264.5,310.8 265.0,310.2 265.5,309.3 266.0,308.2 266.5,307.0 267.0,306.2 267.5,305.7 268.0,305.2 268.5,304.7 269.0,304.4 269.5,304.0 270.0,304.6 270.5,305.2 271.0,305.7 271.5,305.3 272.0,304.9 272.5,303.9 273.0,301.9 273.5,299.8 274.0,298.7 274.5,298.4 275.0,297.9 275.5,297.0 276.0,295.9 276.5,294.8 277.0,294.4 277.5,294.0 278.0,293.1 278.5,291.3 279.0,289.6 279.5,287.2 280.0,284.0 280.5,280.7 281.0,279.6 281.5,279.8 282.0,279.9 282.5,277.7 283.0,275.0 283.5,272.3 284.0,270.9 284.5,269.5 285.0,268.9 285.5,271.7 286.0,274.5 286.5,276.3 287.0,276.9 287.5,277.4 288.0,277.4 288.5,277.1 289.0,276.8 289.5,276.5 290.0,276.3 290.5,276.0 291.0,276.4 291.5,276.8 292.0,277.2 292.5,277.1 293.0,277.0 293.5,277.3 294.0,278.3 294.5,279.2 295.0,279.4 295.5,279.1 296.0,278.8 296.5,279.8 297.0,281.2 297.5,282.5 298.0,281.6 298.5,280.8 299.0,279.8 299.5,278.7 300.0,278.0 300.5,277.3 301.0,276.5 301.5,275.7 302.0,275.6 302.5,276.1 303.0,276.6 303.5,276.6 304.0,276.9 304.5,277.2 305.0,278.9 305.5,280.5 306.0,282.3 306.5,284.2 307.0,286.1 307.5,287.6 308.0,286.9 308.5,286.3 309.0,285.6 309.5,284.9 310.0,284.2 310.5,282.8 311.0,281.3 311.5,279.7 312.0,281.6 312.5,283.8 313.0,285.5 313.5,285.1 314.0,284.7 314.5,285.1 315.0,286.7 315.5,288.3 316.0,288.7 316.5,288.5 317.0,288.2 317.5,289.3 318.0,289.8 318.5,290.3 319.0,287.3 319.5,284.3 320.0,282.0 320.5,282.1 321.0,282.2 321.5,282.2 322.0,283.3 322.5,284.4 323.0,284.6 323.5,284.2 324.0,283.8 324.5,284.1 325.0,284.5 325.5,284.9 326.0,284.9 326.5,284.9 327.0,285.0 327.5,283.9 328.0,282.6 328.5,280.5 329.0,277.3 329.5,274.1 330.0,273.1 330.5,274.8 331.0,276.5 331.5,275.8 332.0,274.5 332.5,273.2 333.0,275.0 333.5,276.7 334.0,278.2 334.5,279.0 335.0,279.8 335.5,280.3 336.0,280.3 336.5,280.4 337.0,279.7 337.5,278.5 338.0,277.3 338.5,278.3 339.0,279.8 339.5,281.3 340.0,281.2 340.5,280.9 341.0,280.8 341.5,281.1 342.0,281.4 342.5,282.2 343.0,283.9 343.5,285.6 344.0,286.6 344.5,287.3 345.0,288.0 345.5,288.8 346.0,289.3 346.5,289.8 347.0,292.6 347.5,295.5 348.0,297.9 348.5,298.8 349.0,299.8 349.5,300.7 350.0,301.6 350.5,301.0 351.0,301.2 351.5,301.9 352.0,302.7 352.5,303.4 353.0,304.2 353.5,305.0 354.0,303.7 354.5,302.4 355.0,301.5 355.5,302.1 356.0,302.7 356.5,303.1 357.0,303.5 357.5,304.0 358.0,304.3 358.5,304.4 359.0,304.6 359.5,304.4 360.0,304.1 360.5,303.8 361.0,305.2 361.5,306.4 362.0,307.5 362.5,307.8 363.0,308.1 363.5,307.9 364.0,307.2 364.5,306.4 365.0,305.7 365.5,305.1 366.0,304.4 366.5,302.8 367.0,300.8 367.5,298.8 368.0,297.9 368.5,297.0 369.0,296.1 369.5,295.2 370.0,294.3 370.5,294.4 371.0,294.5 371.5,294.7 372.0,293.5 372.5,291.6 373.0,289.7 373.5,288.9 374.0,288.5 374.5,288.1 375.0,289.7 375.5,292.7 376.0,295.0 376.5,295.1 377.0,295.2 377.5,296.1 378.0,298.1 378.5,300.1 379.0,301.9 379.5,303.7 380.0,305.4 380.5,306.1 381.0,306.6 381.5,307.1 382.0,307.8 382.5,308.6 383.0,309.6 383.5,310.2 384.0,309.4 384.5,308.7 385.0,307.9 385.5,307.1 386.0,305.7 386.5,303.8 387.0,301.9 387.5,300.6 388.0,299.4 388.5,298.8 389.0,298.8 389.5,298.7 390.0,298.9 390.5,299.7 391.0,300.6 391.5,301.5 392.0,302.4 392.5,303.2 393.0,302.9 393.5,301.7 394.0,300.5 394.5,300.4 395.0,300.6 395.5,300.8 396.0,301.5 396.5,302.2 397.0,302.9 397.5,302.8 398.0,302.7 398.5,302.7 399.0,303.1 399.5,303.4 400.0,304.1 400.5,304.9 401.0,305.8 401.5,307.1 402.0,308.5 402.5,309.9 403.0,309.3 403.5,308.8 404.0,308.8 404.5,310.7 405.0,312.6 405.5,312.9 406.0,312.6 406.5,312.3 407.0,311.3 407.5,309.8 408.0,308.4 408.5,307.5 409.0,306.7 409.5,306.0 410.0,306.7 410.5,307.5 411.0,307.8 411.5,306.2 412.0,303.8 412.5,301.4 413.0,299.9 413.5,298.4 414.0,296.9 414.5,295.2 415.0,293.6 415.5,291.6 416.0,289.6 416.5,287.6 417.0,288.4 417.5,289.7 418.0,290.5 418.5,289.3 419.0,288.1 419.5,287.2 420.0,287.0 420.5,286.7 421.0,286.9 421.5,287.6 422.0,288.2 422.5,287.3 423.0,286.1 423.5,284.9 424.0,283.9 424.5,282.9 425.0,282.1 425.5,283.0 426.0,284.0 426.5,285.0 427.0,286.1 427.5,287.2 428.0,287.4 428.5,286.9 429.0,286.4 429.5,286.8 430.0,287.4 430.5,288.0 431.0,287.0 431.5,286.0 432.0,285.4 432.5,286.8 433.0,288.2 433.5,289.3 434.0,290.1 434.5,290.9 435.0,291.5 435.5,292.1 436.0,292.7 436.5,292.3 437.0,291.7 437.5,291.2 438.0,290.0 438.5,288.7 439.0,287.7 439.5,287.5 440.0,287.2 440.5,287.4 441.0,288.0 441.5,288.7 442.0,290.2 442.5,292.3 443.0,294.3 443.5,295.1 444.0,295.6 444.5,296.2 445.0,298.5 445.5,297.1 446.0,295.7 446.5,294.0 447.0,292.3 447.5,290.9 448.0,290.1 448.5,289.3 449.0,288.6 449.5,287.6 450.0,286.7 450.5,283.8 451.0,280.8 451.5,278.1 452.0,277.8 452.5,277.5 453.0,277.3 453.5,277.6 454.0,277.9 454.5,277.7 455.0,276.6 455.5,275.5 456.0,274.6 456.5,273.9 457.0,273.2 457.5,273.4 458.0,273.8 458.5,274.2 459.0,272.8 459.5,271.4 460.0,270.2 460.5,269.3 461.0,268.2 461.5,267.0 462.0,265.4 462.5,263.9 463.0,262.3 463.5,260.7 464.0,259.1 464.5,258.3 465.0,257.8 465.5,257.2 466.0,254.2 466.5,251.2 467.0,249.0 467.5,250.8 468.0,254.0 468.5,256.1 469.0,256.8 469.5,257.4 470.0,258.0 470.5,258.4 471.0,258.9 471.5,259.6 472.0,260.3 472.5,262.6 473.0,264.6 473.5,266.6 474.0,268.8 474.5,271.8 475.0,274.9 475.5,277.2 476.0,278.6 476.5,279.9 477.0,281.3 477.5,282.8 478.0,284.3 478.5,283.6 479.0,282.3 479.5,281.0 480.0,280.4 480.5,280.4 481.0,280.6 481.5,281.2 482.0,281.9 482.5,282.6 483.0,283.2 483.5,283.8 484.0,283.3 484.5,282.1 485.0,281.0 485.5,281.8 486.0,283.4 486.5,285.1 487.0,285.3 487.5,285.5 488.0,285.5 488.5,285.1 489.0,284.6 489.5,284.5 490.0,284.9 490.5,285.4 491.0,286.4 491.5,287.7 492.0,289.0 492.5,290.7 493.0,292.5 493.5,294.1 494.0,292.0 494.5,290.0 495.0,288.6 495.5,289.6 496.0,290.7 496.5,291.6 497.0,292.3 497.5,293.1 498.0,293.3 498.5,293.2 499.0,293.1 499.5,292.0 500.0,290.8 500.5,289.6 501.0,288.9 501.5,288.2 502.0,288.1 502.5,290.2 503.0,292.4 503.5,293.1 504.0,291.7 504.5,290.4 505.0,289.8 505.5,291.4 506.0,293.1 506.5,295.3 507.0,297.7 507.5,300.1 508.0,301.8 508.5,303.6 509.0,305.5 509.5,307.6 510.0,309.7 510.5,309.3 511.0,308.2 511.5,307.0 512.0,307.2 512.5,308.2 513.0,309.3 513.5,308.3 514.0,306.9 514.5,305.4 515.0,305.5 515.5,305.6 516.0,305.4 516.5,304.2 517.0,302.9 517.5,302.4 518.0,303.1 518.5,303.8 519.0,303.2 519.5,301.6 520.0,300.3 520.5,301.4 521.0,303.0 521.5,304.5 522.0,304.8 522.5,305.1 523.0,305.8 523.5,307.8 524.0,309.7 524.5,310.9 525.0,311.1 525.5,311.2 526.0,311.5 526.5,311.8 527.0,312.1 527.5,313.8 528.0,315.8 528.5,317.8 529.0,318.4 529.5,318.9 530.0,319.5 530.5,319.8 531.0,320.1 531.5,320.4 532.0,319.9 532.5,318.9 533.0,318.2 533.5,317.7 534.0,317.2 534.5,316.6 535.0,316.3 535.5,315.9 536.0,315.6 536.5,315.3 537.0,315.1 537.5,314.9 538.0,314.7 538.5,314.8 539.0,315.3 539.5,315.8 540.0,315.7 540.5,315.2 541.0,314.6 541.5,314.3 542.0,314.4 542.5,314.5 543.0,316.1 543.5,317.6 544.0,318.8 544.5,318.9 545.0,319.0 545.5,319.2 546.0,319.5 546.5,319.9 547.0,320.6 547.5,321.6 548.0,322.5 548.5,322.7 549.0,322.7 549.5,322.8 550.0,323.7 550.5,324.1 551.0,323.8 551.5,323.0 552.0,322.1 552.5,321.4 553.0,320.9 553.5,320.4 554.0,320.0 554.5,319.4 555.0,318.9 555.5,318.4 556.0,317.9 556.5,317.4 557.0,316.9 557.5,316.4 558.0,315.9 558.5,315.8 559.0,315.6 559.5,315.4 560.0,314.9 560.5,314.5 561.0,313.7 561.5,312.6 562.0,311.5 562.5,311.0 563.0,310.6 563.5,310.3 564.0,310.1 564.5,309.9 565.0,310.0 565.5,311.1 566.0,312.1 566.5,312.4 567.0,312.0 567.5,311.6 568.0,310.1 568.5,307.8 569.0,305.5 569.5,305.6 570.0,306.4 570.5,307.1 571.0,305.2 571.5,303.3 572.0,301.8 572.5,301.9 573.0,302.2 573.5,302.9 574.0,302.9 574.5,303.0 575.0,303.6 575.5,304.5 576.0,305.3 576.5,304.6 577.0,303.4 577.5,302.2 578.0,302.8 578.5,303.3 579.0,303.9 579.5,305.0 580.0,306.1 580.5,306.2 581.0,304.9 581.5,303.7 582.0,303.4 582.5,303.8 583.0,304.2 583.5,305.1 584.0,306.1 584.5,307.2 585.0,307.7 585.5,308.3 586.0,308.8 586.5,309.1 586.5,351.0"/>
<polygon fill="#c6b9e2" points="47.5,351.0 47.5,349.8 48.0,349.8 48.5,349.7 49.0,349.7 49.5,349.7 50.0,349.7 50.5,349.7 51.0,349.7 51.5,349.7 52.0,349.7 52.5,349.7 53.0,349.7 53.5,349.7 54.0,349.6 54.5,349.7 55.0,349.7 55.5,349.7 56.0,349.7 56.5,349.8 57.0,349.8 57.5,349.7 58.0,349.7 58.5,349.7 59.0,349.7 59.5,349.7 60.0,349.7 60.5,349.7 61.0,349.7 61.5,349.7 62.0,349.7 62.5,349.7 63.0,349.7 63.5,349.7 64.0,349.7 64.5,349.7 65.0,349.7 65.5,349.7 66.0,349.7 66.5,349.7 67.0,349.7 67.5,349.8 68.0,349.8 68.5,349.8 69.0,349.8 69.5,349.8 70.0,349.7 70.5,349.7 71.0,349.7 71.5,349.8 72.0,349.8 72.5,349.8 73.0,349.7 73.5,349.7 74.0,349.7 74.5,349.7 75.0,349.7 75.5,349.7 76.0,349.7 76.5,349.7 77.0,349.7 77.5,349.6 78.0,349.6 78.5,349.6 79.0,349.6 79.5,349.7 80.0,349.7 80.5,349.7 81.0,349.7 81.5,349.7 82.0,349.7 82.5,349.7 83.0,349.7 83.5,349.7 84.0,349.7 84.5,349.7 85.0,349.7 85.5,349.7 86.0,349.7 86.5,349.7 87.0,349.7 87.5,349.7 88.0,349.7 88.5,349.7 89.0,349.7 89.5,349.6 90.0,349.6 90.5,349.6 91.0,349.6 91.5,349.7 92.0,349.7 92.5,349.7 93.0,349.7 93.5,349.7 94.0,349.7 94.5,349.7 95.0,349.7 95.5,349.7 96.0,349.7 96.5,349.7 97.0,349.6 97.5,349.6 98.0,349.7 98.5,349.7 99.0,349.7 99.5,349.7 100.0,349.7 100.5,349.7 101.0,349.7 101.5,349.7 102.0,349.7 102.5,349.7 103.0,349.7 103.5,349.7 104.0,349.7 104.5,349.7 105.0,349.7 105.5,349.7 106.0,349.8 106.5,349.7 107.0,349.7 107.5,349.7 108.0,349.7 108.5,349.7 109.0,349.7 109.5,349.7 110.0,349.6 110.5,349.7 111.0,349.7 111.5,349.7 112.0,349.7 112.5,349.7 113.0,349.7 113.5,349.7 114.0,349.7 114.5,349.7 115.0,349.7 115.5,349.7 116.0,349.7 116.5,349.7 117.0,349.7 117.5,349.7 118.0,349.6 118.5,349.6 119.0,349.7 119.5,349.7 120.0,349.7 120.5,349.7 121.0,349.7 121.5,349.7 122.0,349.7 122.5,349.6 123.0,349.7 123.5,349.7 124.0,349.8 124.5,349.7 125.0,349.7 125.5,349.7 126.0,349.7 126.5,349.8 127.0,349.8 127.5,349.7 128.0,349.7 128.5,349.7 129.0,349.7 129.5,349.7 130.0,349.7 130.5,349.7 131.0,349.7 131.5,349.7 132.0,349.7 132.5,349.7 133.0,349.7 133.5,349.7 134.0,349.7 134.5,349.7 135.0,349.7 135.5,349.7 136.0,349.7 136.5,349.7 137.0,349.7 137.5,349.7 138.0,349.7 138.5,349.7 139.0,349.6 139.5,349.7 140.0,349.7 140.5,349.8 141.0,349.8 141.5,349.7 142.0,349.7 142.5,349.7 143.0,349.7 143.5,349.7 144.0,349.7 144.5,349.7 145.0,349.7 145.5,349.7 146.0,349.7 146.5,349.7 147.0,349.7 147.5,349.7 148.0,349.7 148.5,349.7 149.0,349.7 149.5,349.7 150.0,349.7 150.5,349.7 151.0,349.8 151.5,349.8 152.0,349.8 152.5,349.8 153.0,349.8 153.5,349.8 154.0,349.7 154.5,349.7 155.0,349.7 155.5,349.7 156.0,349.7 156.5,349.7 157.0,349.6 157.5,349.6 158.0,349.7 158.5,349.7 159.0,349.8 159.5,349.7 160.0,349.7 160.5,349.7 161.0,349.7 161.5,349.7 162.0,349.7 162.5,349.7 163.0,349.8 163.5,349.8 164.0,349.7 164.5,349.7 165.0,349.7 165.5,349.7 166.0,349.7 166.5,349.7 167.0,349.7 167.5,349.7 168.0,349.7 168.5,349.7 169.0,349.7 169.5,349.7 170.0,349.6 170.5,349.6 171.0,349.6 171.5,349.6 172.0,349.7 172.5,349.7 173.0,349.7 173.5,349.7 174.0,349.7 174.5,349.7 175.0,349.7 175.5,349.7 176.0,349.7 176.5,349.7 177.0,349.7 177.5,349.7 178.0,349.7 178.5,349.7 179.0,349.7 179.5,349.7 180.0,349.6 180.5,349.7 181.0,349.7 181.5,349.7 182.0,349.7 182.5,349.7 183.0,349.7 183.5,349.7 184.0,349.7 184.5,349.7 185.0,349.7 185.5,349.7 186.0,349.7 186.5,349.7 187.0,349.7 187.5,349.7 188.0,349.7 188.5,349.6 189.0,349.6 189.5,349.6 190.0,349.6 190.5,349.6 191.0,349.5 191.5,349.4 192.0,349.2 192.5,349.0 193.0,348.9 193.5,348.8 194.0,348.7 194.5,348.6 195.0,348.5 195.5,348.3 196.0,348.2 196.5,348.0 197.0,347.9 197.5,347.8 198.0,347.6 198.5,347.4 199.0,347.3 199.5,347.1 200.0,347.0 200.5,346.9 201.0,346.7 201.5,346.4 202.0,346.0 202.5,345.8 203.0,345.8 203.5,345.7 204.0,345.4 204.5,344.9 205.0,344.5 205.5,344.3 206.0,344.2 206.5,344.1 207.0,343.9 207.5,343.7 208.0,343.4 208.5,343.0 209.0,342.5 209.5,342.1 210.0,341.9 210.5,341.7 211.0,341.6 211.5,341.6 212.0,341.6 212.5,341.2 213.0,340.8 213.5,340.3 214.0,340.4 214.5,340.4 215.0,340.5 215.5,340.2 216.0,340.0 216.5,339.8 217.0,339.6 217.5,339.4 218.0,339.3 218.5,339.2 219.0,339.2 219.5,339.0 220.0,338.8 220.5,338.6 221.0,338.6 221.5,338.6 222.0,338.6 222.5,338.9 223.0,339.2 223.5,339.3 224.0,339.2 224.5,339.1 225.0,339.3 225.5,339.5 226.0,339.7 226.5,340.0 227.0,340.3 227.5,340.6 228.0,340.5 228.5,340.5 229.0,340.4 229.5,340.3 230.0,340.2 230.5,340.2 231.0,340.3 231.5,340.4 232.0,340.6 232.5,341.0 233.0,341.5 233.5,341.5 234.0,341.4 234.5,341.4 235.0,341.7 235.5,341.9 236.0,342.2 236.5,342.2 237.0,342.3 237.5,342.3 238.0,342.4 238.5,342.4 239.0,342.6 239.5,342.9 240.0,343.1 240.5,343.2 241.0,343.3 241.5,343.4 242.0,343.3 242.5,343.2 243.0,343.1 243.5,343.0 244.0,343.0 244.5,343.0 245.0,343.2 245.5,343.3 246.0,343.2 246.5,343.0 247.0,342.8 247.5,342.8 248.0,342.9 248.5,342.9 249.0,342.6 249.5,342.2 250.0,342.0 250.5,341.5 251.0,341.0 251.5,340.5 252.0,340.0 252.5,339.5 253.0,339.0 253.5,338.6 254.0,338.2 254.5,337.4 255.0,336.5 255.5,335.5 256.0,335.2 256.5,334.9 257.0,334.8 257.5,334.6 258.0,334.4 258.5,334.3 259.0,334.3 259.5,334.3 260.0,334.2 260.5,334.0 261.0,333.9 261.5,333.9 262.0,333.5 262.5,332.9 263.0,331.5 263.5,330.2 264.0,328.9 264.5,328.1 265.0,327.4 265.5,326.6 266.0,325.6 266.5,324.5 267.0,324.1 267.5,324.1 268.0,324.1 268.5,324.5 269.0,325.0 269.5,325.5 270.0,326.6 270.5,327.6 271.0,328.3 271.5,328.3 272.0,328.3 272.5,328.2 273.0,327.7 273.5,327.1 274.0,326.7 274.5,326.8 275.0,326.8 275.5,326.5 276.0,326.0 276.5,325.5 277.0,325.5 277.5,325.5 278.0,325.4 278.5,324.7 279.0,324.0 279.5,323.3 280.0,322.6 280.5,321.9 281.0,322.1 281.5,323.1 282.0,324.1 282.5,324.2 283.0,324.1 283.5,324.0 284.0,324.3 284.5,324.6 285.0,324.9 285.5,324.7 286.0,324.5 286.5,324.0 287.0,323.0 287.5,322.0 288.0,321.3 288.5,321.1 289.0,321.6 289.5,322.5 290.0,323.6 290.5,324.7 291.0,325.3 291.5,325.9 292.0,326.5 292.5,327.1 293.0,327.7 293.5,328.2 294.0,328.5 294.5,328.7 295.0,328.7 295.5,328.6 296.0,328.5 296.5,329.5 297.0,330.3 297.5,330.8 298.0,330.2 298.5,329.5 299.0,329.0 299.5,329.1 300.0,329.1 300.5,328.9 301.0,328.2 301.5,327.5 302.0,327.3 302.5,327.3 303.0,327.3 303.5,326.4 304.0,325.8 304.5,325.1 305.0,325.8 305.5,326.4 306.0,327.0 306.5,327.4 307.0,327.8 307.5,328.4 308.0,329.0 308.5,329.6 309.0,329.7 309.5,329.7 310.0,329.6 310.5,329.9 311.0,330.2 311.5,330.5 312.0,330.9 312.5,331.3 313.0,331.5 313.5,331.0 314.0,330.5 314.5,330.5 315.0,331.1 315.5,331.7 316.0,331.8 316.5,331.6 317.0,331.4 317.5,331.9 318.0,332.7 318.5,333.4 319.0,333.1 319.5,332.9 320.0,332.7 320.5,333.2 321.0,333.7 321.5,334.2 322.0,334.8 322.5,335.3 323.0,335.5 323.5,335.5 324.0,335.6 324.5,335.9 325.0,336.3 325.5,336.7 326.0,336.9 326.5,337.0 327.0,336.9 327.5,336.7 328.0,336.5 328.5,336.1 329.0,335.5 329.5,334.9 330.0,334.7 330.5,334.6 331.0,334.5 331.5,334.0 332.0,333.5 332.5,332.9 333.0,333.0 333.5,333.2 334.0,333.3 334.5,333.4 335.0,333.4 335.5,333.7 336.0,333.7 336.5,333.8 337.0,333.5 337.5,333.0 338.0,332.4 338.5,332.7 339.0,333.1 339.5,333.6 340.0,333.7 340.5,333.8 341.0,333.8 341.5,333.7 342.0,333.7 342.5,334.0 343.0,334.6 343.5,335.2 344.0,335.6 344.5,336.1 345.0,336.5 345.5,336.6 346.0,336.7 346.5,336.7 347.0,337.4 347.5,338.0 348.0,338.5 348.5,338.8 349.0,338.9 349.5,338.9 350.0,338.8 350.5,338.7 351.0,338.8 351.5,339.1 352.0,339.4 352.5,339.7 353.0,340.0 353.5,340.3 354.0,340.1 354.5,339.9 355.0,339.7 355.5,340.1 356.0,340.4 356.5,340.6 357.0,340.6 357.5,340.7 358.0,340.8 358.5,340.8 359.0,340.8 359.5,340.9 360.0,340.9 360.5,340.9 361.0,341.2 361.5,341.4 362.0,341.7 362.5,341.7 363.0,341.4 363.5,341.2 364.0,341.1 364.5,341.0 365.0,340.8 365.5,340.6 366.0,340.3 366.5,339.8 367.0,339.2 367.5,338.6 368.0,338.5 368.5,338.5 369.0,338.4 369.5,338.3 370.0,338.3 370.5,338.1 371.0,337.7 371.5,337.3 372.0,337.0 372.5,336.8 373.0,336.5 373.5,336.3 374.0,336.2 374.5,336.1 375.0,336.6 375.5,337.2 376.0,337.6 376.5,337.2 377.0,336.9 377.5,336.9 378.0,337.2 378.5,337.6 379.0,338.1 379.5,338.6 380.0,339.0 380.5,339.2 381.0,339.3 381.5,339.5 382.0,339.8 382.5,340.1 383.0,340.5 383.5,340.5 384.0,340.3 384.5,340.2 385.0,340.1 385.5,340.0 386.0,339.8 386.5,339.4 387.0,339.1 387.5,338.9 388.0,338.8 388.5,338.8 389.0,338.4 389.5,338.0 390.0,337.7 390.5,338.0 391.0,338.2 391.5,338.3 392.0,338.2 392.5,338.1 393.0,338.0 393.5,337.7 394.0,337.4 394.5,337.1 395.0,336.9 395.5,336.7 396.0,336.7 396.5,336.8 397.0,337.0 397.5,337.0 398.0,337.0 398.5,337.1 399.0,337.3 399.5,337.6 400.0,337.8 400.5,337.9 401.0,338.1 401.5,338.4 402.0,338.7 402.5,339.1 403.0,339.1 403.5,339.1 404.0,339.2 404.5,339.7 405.0,340.1 405.5,340.0 406.0,339.7 406.5,339.4 407.0,339.1 407.5,339.0 408.0,338.8 408.5,338.5 409.0,338.2 409.5,337.8 410.0,337.9 410.5,338.0 411.0,337.9 411.5,337.5 412.0,336.6 412.5,335.2 413.0,334.0 413.5,332.8 414.0,331.6 414.5,330.6 415.0,329.5 415.5,328.4 416.0,327.4 416.5,326.4 417.0,326.5 417.5,326.9 418.0,327.1 418.5,326.3 419.0,325.4 419.5,324.8 420.0,324.6 420.5,324.5 421.0,324.6 421.5,324.8 422.0,325.1 422.5,324.9 423.0,324.5 423.5,324.1 424.0,323.4 424.5,322.6 425.0,321.9 425.5,321.8 426.0,321.8 426.5,321.8 427.0,321.9 427.5,322.1 428.0,321.7 428.5,321.0 429.0,320.2 429.5,320.1 430.0,320.1 430.5,320.6 431.0,320.3 431.5,320.1 432.0,320.1 432.5,321.2 433.0,322.3 433.5,322.9 434.0,322.9 434.5,323.0 435.0,323.2 435.5,323.8 436.0,324.4 436.5,324.7 437.0,324.9 437.5,325.1 438.0,325.1 438.5,325.0 439.0,325.0 439.5,325.1 440.0,325.3 440.5,325.8 441.0,326.8 441.5,327.8 442.0,328.5 442.5,328.9 443.0,329.3 443.5,329.3 444.0,329.3 444.5,329.2 445.0,329.4 445.5,328.3 446.0,327.4 446.5,327.0 447.0,326.6 447.5,326.2 448.0,325.7 448.5,325.2 449.0,324.7 449.5,324.0 450.0,323.4 450.5,322.8 451.0,321.9 451.5,321.1 452.0,321.7 452.5,322.4 453.0,323.1 453.5,324.1 454.0,325.1 454.5,325.8 455.0,326.1 455.5,326.5 456.0,326.7 456.5,326.9 457.0,326.5 457.5,326.1 458.0,325.9 458.5,325.6 459.0,325.2 459.5,324.7 460.0,324.2 460.5,323.4 461.0,322.5 461.5,321.7 462.0,321.0 462.5,320.3 463.0,319.5 463.5,318.7 464.0,318.1 464.5,317.6 465.0,317.2 465.5,316.9 466.0,315.7 466.5,314.5 467.0,313.7 467.5,314.3 468.0,315.8 468.5,317.0 469.0,317.4 469.5,317.8 470.0,318.3 470.5,318.8 471.0,319.3 471.5,319.8 472.0,320.2 472.5,320.7 473.0,321.3 473.5,322.0 474.0,322.4 474.5,322.8 475.0,323.1 475.5,323.3 476.0,323.3 476.5,323.4 477.0,324.1 477.5,325.3 478.0,326.4 478.5,326.8 479.0,327.0 479.5,327.3 480.0,327.6 480.5,327.1 481.0,326.7 481.5,326.4 482.0,326.2 482.5,326.0 483.0,325.9 483.5,325.8 484.0,325.2 484.5,324.4 485.0,323.6 485.5,323.4 486.0,323.3 486.5,323.3 487.0,323.8 487.5,324.5 488.0,325.1 488.5,324.9 489.0,324.9 489.5,324.9 490.0,325.0 490.5,325.2 491.0,326.0 491.5,327.3 492.0,328.5 492.5,329.4 493.0,330.1 493.5,330.6 494.0,329.4 494.5,328.2 495.0,327.3 495.5,327.7 496.0,328.2 496.5,328.4 497.0,328.3 497.5,328.6 498.0,328.8 498.5,328.9 499.0,329.0 499.5,328.5 500.0,327.9 500.5,327.3 501.0,327.4 501.5,327.6 502.0,327.9 502.5,328.9 503.0,329.8 503.5,330.3 504.0,329.9 504.5,329.5 505.0,329.5 505.5,329.8 506.0,330.2 506.5,330.6 507.0,331.1 507.5,331.6 508.0,332.0 508.5,332.4 509.0,332.9 509.5,333.4 510.0,334.0 510.5,333.6 511.0,332.7 511.5,331.9 512.0,331.7 512.5,332.0 513.0,332.4 513.5,331.8 514.0,331.0 514.5,330.1 515.0,330.5 515.5,330.9 516.0,331.1 516.5,330.3 517.0,329.5 517.5,328.9 518.0,328.7 518.5,328.5 519.0,328.1 519.5,327.6 520.0,327.0 520.5,327.6 521.0,328.2 521.5,328.9 522.0,329.4 522.5,330.0 523.0,330.6 523.5,331.5 524.0,332.4 524.5,332.9 525.0,332.9 525.5,332.9 526.0,333.0 526.5,333.2 527.0,333.4 527.5,334.4 528.0,335.5 528.5,336.5 529.0,336.8 529.5,337.2 530.0,337.5 530.5,338.0 531.0,338.4 531.5,338.7 532.0,338.5 532.5,338.1 533.0,338.0 533.5,338.1 534.0,338.2 534.5,338.2 535.0,338.2 535.5,338.2 536.0,338.3 536.5,338.4 537.0,338.5 537.5,338.5 538.0,338.5 538.5,338.5 539.0,338.7 539.5,338.8 540.0,338.9 540.5,338.9 541.0,338.9 541.5,338.8 542.0,338.8 542.5,338.8 543.0,339.3 543.5,339.7 544.0,340.0 544.5,339.8 545.0,339.5 545.5,339.4 546.0,339.4 546.5,339.5 547.0,339.6 547.5,339.8 548.0,339.9 548.5,339.9 549.0,339.8 549.5,339.7 550.0,339.9 550.5,340.0 551.0,339.7 551.5,339.3 552.0,338.8 552.5,338.5 553.0,338.2 553.5,337.9 554.0,337.7 554.5,337.4 555.0,337.2 555.5,336.8 556.0,336.5 556.5,336.2 557.0,335.7 557.5,335.3 558.0,334.9 558.5,334.9 559.0,334.8 559.5,334.8 560.0,334.5 560.5,334.3 561.0,333.9 561.5,333.2 562.0,332.6 562.5,332.2 563.0,331.9 563.5,331.5 564.0,331.3 564.5,331.1 565.0,331.0 565.5,331.3 566.0,331.7 566.5,331.8 567.0,331.4 567.5,331.1 568.0,330.5 568.5,329.7 569.0,329.0 569.5,329.2 570.0,329.7 570.5,330.3 571.0,329.2 571.5,328.1 572.0,327.2 572.5,327.3 573.0,327.4 573.5,327.4 574.0,327.2 574.5,327.1 575.0,327.1 575.5,327.3 576.0,327.7 576.5,327.2 577.0,326.6 577.5,326.0 578.0,326.3 578.5,326.6 579.0,326.9 579.5,327.0 580.0,327.1 580.5,327.1 581.0,326.7 581.5,326.4 582.0,326.3 582.5,326.4 583.0,326.4 583.5,326.6 584.0,326.8 584.5,327.1 585.0,327.6 585.5,328.1 586.0,328.6 586.5,328.6 586.5,351.0"/>
<line x1="47.5" y1="352.5" x2="586.5" y2="352.5" stroke="#e4e4e4" stroke-width="1"/>
<line x1="47.5" y1="352" x2="47.5" y2="357" stroke="#d8d8d8" stroke-width="1"/>
<line x1="109.5" y1="352" x2="109.5" y2="357" stroke="#d8d8d8" stroke-width="1"/>
<line x1="172.5" y1="352" x2="172.5" y2="357" stroke="#d8d8d8" stroke-width="1"/>
<line x1="235.5" y1="352" x2="235.5" y2="357" stroke="#d8d8d8" stroke-width="1"/>
<line x1="297.2" y1="352" x2="297.2" y2="357" stroke="#d8d8d8" stroke-width="1"/>
<line x1="359.2" y1="352" x2="359.2" y2="357" stroke="#d8d8d8" stroke-width="1"/>
<line x1="422.2" y1="352" x2="422.2" y2="357" stroke="#d8d8d8" stroke-width="1"/>
<line x1="484.7" y1="352" x2="484.7" y2="357" stroke="#d8d8d8" stroke-width="1"/>
<line x1="546.6" y1="352" x2="546.6" y2="357" stroke="#d8d8d8" stroke-width="1"/>
</svg>
<svg width="600" height="426" style="position:absolute;left:0;top:0" font-family="Liberation Sans, sans-serif">
<rect x="84" y="60.1" width="7.8" height="7" fill="#c6b9e2"/>
<rect x="84" y="83.0" width="7.8" height="7" fill="#33205a"/>
<rect x="84" y="105.9" width="7.8" height="7" fill="#6dbd80"/>
<rect x="84" y="128.8" width="7.8" height="7" fill="#808080"/>
<rect x="84" y="151.7" width="7.8" height="7" fill="#f05a1e"/>
<rect x="84" y="174.6" width="7.8" height="7" fill="#1d4a2c"/>
<rect x="84" y="197.5" width="7.8" height="7" fill="#f8a98a"/>
<g fill="#f6a817">
<rect x="483.5" y="402" width="5.5" height="5.5"/>
<rect x="491.5" y="395.5" width="5" height="3.8"/>
<rect x="498.5" y="395" width="6" height="19.5"/>
<rect x="483.5" y="409.5" width="21" height="5"/>
</g>
<g transform="translate(511.3,398)" fill="none" stroke-linecap="square"><path d="M1,7 L8.5,0.5 L16,7 M5,7.5 H12 M3,10.5 H14 M8.5,7.5 V15 M5,11.5 L6,13.5 M12,11.5 L11,13.5 M1,15.5 H16" stroke="#d2d2d2" stroke-width="2.6" transform="translate(0.6,0.6)"/><path d="M1,7 L8.5,0.5 L16,7 M5,7.5 H12 M3,10.5 H14 M8.5,7.5 V15 M5,11.5 L6,13.5 M12,11.5 L11,13.5 M1,15.5 H16" stroke="#ffffff" stroke-width="1.2"/></g>
<g transform="translate(531.5,398)" fill="none" stroke-linecap="square"><path d="M5,0.5 L3,3 H11 L9,5 M2,5 H15 V11 H2 Z M8.5,5 V11 M2,5 V15.5 H16 V13" stroke="#d2d2d2" stroke-width="2.6" transform="translate(0.6,0.6)"/><path d="M5,0.5 L3,3 H11 L9,5 M2,5 H15 V11 H2 Z M8.5,5 V11 M2,5 V15.5 H16 V13" stroke="#ffffff" stroke-width="1.2"/></g>
<g transform="translate(551.5,398)" fill="none" stroke-linecap="square"><path d="M1,1 H7 V11 H1 Z M4,3 V9 M3,11 L1,15 M5,11 L7,15 M8,5 H17 M13,0.5 V15.5 L11,14.5 M13,6 L8,12" stroke="#d2d2d2" stroke-width="2.6" transform="translate(0.6,0.6)"/><path d="M1,1 H7 V11 H1 Z M4,3 V9 M3,11 L1,15 M5,11 L7,15 M8,5 H17 M13,0.5 V15.5 L11,14.5 M13,6 L8,12" stroke="#ffffff" stroke-width="1.2"/></g>
<g transform="translate(571.5,398)" fill="none" stroke-linecap="square"><path d="M4,0.5 L1,5 L5,6 L1,10 L6,9 M1,14 L6,12 M8,1 H16 L9,8 M10,3 L16,8 M9,10 H16 M12.5,10 V15 M8,15.5 H17" stroke="#d2d2d2" stroke-width="2.6" transform="translate(0.6,0.6)"/><path d="M4,0.5 L1,5 L5,6 L1,10 L6,9 M1,14 L6,12 M8,1 H16 L9,8 M10,3 L16,8 M9,10 H16 M12.5,10 V15 M8,15.5 H17" stroke="#ffffff" stroke-width="1.2"/></g>
<path d="M573,396 L575,396 L573.5,402 L572,402 Z" fill="#f6b81c"/>
<text x="104.3" y="28.6" font-size="14" text-anchor="start" fill="#111" textLength="426.5" lengthAdjust="spacingAndGlyphs">Artificial Intelligence Crypto Sector Constituent Market Caps</text>
<text x="19.9" y="28.3" font-size="14" text-anchor="start" fill="#111" textLength="26.8" lengthAdjust="spacingAndGlyphs">$bn</text>
<text x="35.2" y="356.2" font-size="13" text-anchor="end" fill="#111">0</text>
<text x="35.2" y="322.5" font-size="13" text-anchor="end" fill="#111">5</text>
<text x="35.2" y="288.8" font-size="13" text-anchor="end" fill="#111">10</text>
<text x="35.2" y="255.0" font-size="13" text-anchor="end" fill="#111">15</text>
<text x="35.2" y="221.3" font-size="13" text-anchor="end" fill="#111">20</text>
<text x="35.2" y="187.6" font-size="13" text-anchor="end" fill="#111">25</text>
<text x="35.2" y="153.9" font-size="13" text-anchor="end" fill="#111">30</text>
<text x="35.2" y="120.2" font-size="13" text-anchor="end" fill="#111">35</text>
<text x="35.2" y="86.4" font-size="13" text-anchor="end" fill="#111">40</text>
<text x="35.2" y="52.7" font-size="13" text-anchor="end" fill="#111">45</text>
<text x="47.5" y="373.5" font-size="12.5" text-anchor="middle" fill="#111" textLength="44.5" lengthAdjust="spacingAndGlyphs">Mar-23</text>
<text x="109.5" y="373.5" font-size="12.5" text-anchor="middle" fill="#111" textLength="45" lengthAdjust="spacingAndGlyphs">Jun-23</text>
<text x="172.5" y="373.5" font-size="12.5" text-anchor="middle" fill="#111" textLength="46.6" lengthAdjust="spacingAndGlyphs">Sep-23</text>
<text x="235.5" y="373.5" font-size="12.5" text-anchor="middle" fill="#111" textLength="47.5" lengthAdjust="spacingAndGlyphs">Dec-23</text>
<text x="297.2" y="373.5" font-size="12.5" text-anchor="middle" fill="#111" textLength="45.5" lengthAdjust="spacingAndGlyphs">Mar-24</text>
<text x="359.2" y="373.5" font-size="12.5" text-anchor="middle" fill="#111" textLength="42" lengthAdjust="spacingAndGlyphs">Jun-24</text>
<text x="422.2" y="373.5" font-size="12.5" text-anchor="middle" fill="#111" textLength="46" lengthAdjust="spacingAndGlyphs">Sep-24</text>
<text x="484.7" y="373.5" font-size="12.5" text-anchor="middle" fill="#111" textLength="47.5" lengthAdjust="spacingAndGlyphs">Dec-24</text>
<text x="546.6" y="373.5" font-size="12.5" text-anchor="middle" fill="#111" textLength="45.1" lengthAdjust="spacingAndGlyphs">Mar-25</text>
<text x="96.2" y="66.9" font-size="12.5" text-anchor="start" fill="#111" textLength="25.5" lengthAdjust="spacingAndGlyphs">TAO</text>
<text x="96.2" y="89.8" font-size="12.5" text-anchor="start" fill="#111" textLength="34.5" lengthAdjust="spacingAndGlyphs">NEAR</text>
<text x="96.2" y="112.7" font-size="12.5" text-anchor="start" fill="#111" textLength="52.6" lengthAdjust="spacingAndGlyphs">RENDER</text>
<text x="96.2" y="135.6" font-size="12.5" text-anchor="start" fill="#111" textLength="21.6" lengthAdjust="spacingAndGlyphs">FET</text>
<text x="96.2" y="158.5" font-size="12.5" text-anchor="start" fill="#111" textLength="29.6" lengthAdjust="spacingAndGlyphs">WLD</text>
<text x="96.2" y="181.4" font-size="12.5" text-anchor="start" fill="#111" textLength="53.3" lengthAdjust="spacingAndGlyphs">VIRTUAL</text>
<text x="96.2" y="204.3" font-size="12.5" text-anchor="start" fill="#111" textLength="54.4" lengthAdjust="spacingAndGlyphs">All Other</text>
<text x="19.7" y="397.1" font-size="11.5" text-anchor="start" fill="#111" textLength="553.7" lengthAdjust="spacingAndGlyphs">Source: Artemis, taostats.io, Grayscale Investments. Data as of May 30, 2025. Past performance not</text>
<text x="19.7" y="411.2" font-size="11.5" text-anchor="start" fill="#111" textLength="147.6" lengthAdjust="spacingAndGlyphs">indicative of future results.</text>
</svg>
</body></html>
